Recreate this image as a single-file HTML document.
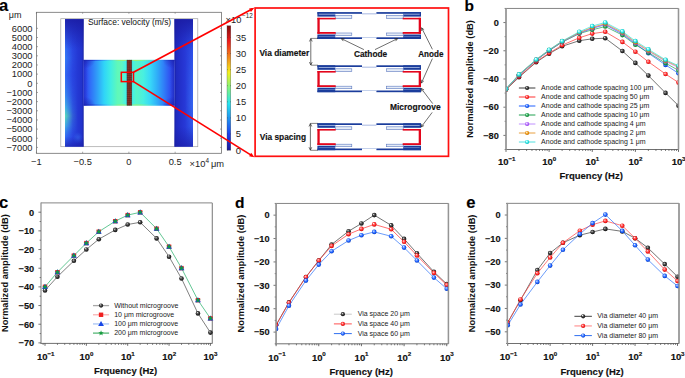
<!DOCTYPE html>
<html><head><meta charset="utf-8"><title>Figure</title>
<style>
html,body{margin:0;padding:0;background:#fff;width:685px;height:378px;overflow:hidden;}
svg{display:block;font-family:"Liberation Sans", sans-serif;}
</style></head><body>
<svg width="685" height="378" viewBox="0 0 685 378" font-family='"Liberation Sans", sans-serif'><defs><radialGradient id="gK" cx="0.5" cy="0.5" r="0.6" fx="0.35" fy="0.3"><stop offset="0" stop-color="#ffffff"/><stop offset="0.25" stop-color="#707070"/><stop offset="0.6" stop-color="#2a2a2a"/><stop offset="1" stop-color="#0a0a0a"/></radialGradient><radialGradient id="gR" cx="0.5" cy="0.5" r="0.6" fx="0.35" fy="0.3"><stop offset="0" stop-color="#ffffff"/><stop offset="0.25" stop-color="#ff8080"/><stop offset="0.6" stop-color="#ff2222"/><stop offset="1" stop-color="#b00000"/></radialGradient><radialGradient id="gB" cx="0.5" cy="0.5" r="0.6" fx="0.35" fy="0.3"><stop offset="0" stop-color="#ffffff"/><stop offset="0.25" stop-color="#7aa8ff"/><stop offset="0.6" stop-color="#1a5cff"/><stop offset="1" stop-color="#0030a0"/></radialGradient><radialGradient id="gG" cx="0.5" cy="0.5" r="0.6" fx="0.35" fy="0.3"><stop offset="0" stop-color="#ffffff"/><stop offset="0.25" stop-color="#70d090"/><stop offset="0.6" stop-color="#1fa04a"/><stop offset="1" stop-color="#0a6020"/></radialGradient><radialGradient id="gP" cx="0.5" cy="0.5" r="0.6" fx="0.35" fy="0.3"><stop offset="0" stop-color="#ffffff"/><stop offset="0.25" stop-color="#d8b0ff"/><stop offset="0.6" stop-color="#b060ff"/><stop offset="1" stop-color="#7020c0"/></radialGradient><radialGradient id="gO" cx="0.5" cy="0.5" r="0.6" fx="0.35" fy="0.3"><stop offset="0" stop-color="#ffffff"/><stop offset="0.25" stop-color="#ffc870"/><stop offset="0.6" stop-color="#e8900a"/><stop offset="1" stop-color="#a05800"/></radialGradient><radialGradient id="gC" cx="0.5" cy="0.5" r="0.6" fx="0.35" fy="0.3"><stop offset="0" stop-color="#ffffff"/><stop offset="0.25" stop-color="#a0ffff"/><stop offset="0.6" stop-color="#20dede"/><stop offset="1" stop-color="#00a0a0"/></radialGradient><linearGradient id="chan" x1="0" y1="0" x2="1" y2="0"><stop offset="0.0000" stop-color="#2c3ce8"/><stop offset="0.0275" stop-color="#2f4cf0"/><stop offset="0.0791" stop-color="#3070f8"/><stop offset="0.1527" stop-color="#30a0f8"/><stop offset="0.2264" stop-color="#30d4f8"/><stop offset="0.3000" stop-color="#40eee2"/><stop offset="0.3462" stop-color="#54f4c8"/><stop offset="0.3747" stop-color="#60f8b8"/><stop offset="0.4187" stop-color="#60f8c0"/><stop offset="0.4505" stop-color="#50f4d8"/><stop offset="0.4725" stop-color="#40f0f0"/><stop offset="0.5308" stop-color="#40f0f0"/><stop offset="0.5462" stop-color="#48f2e0"/><stop offset="0.5846" stop-color="#58f4c8"/><stop offset="0.6582" stop-color="#48f0e0"/><stop offset="0.7319" stop-color="#38d8f8"/><stop offset="0.8055" stop-color="#30b0f8"/><stop offset="0.8802" stop-color="#3080f8"/><stop offset="0.9538" stop-color="#3050f0"/><stop offset="0.9835" stop-color="#2c40e0"/><stop offset="1.0000" stop-color="#2434d0"/></linearGradient><linearGradient id="chanE" x1="0" y1="0" x2="1" y2="0"><stop offset="0.0000" stop-color="#1c2ab8"/><stop offset="0.0934" stop-color="#2040d8"/><stop offset="0.1813" stop-color="#2a80f0"/><stop offset="0.2692" stop-color="#40c8f0"/><stop offset="0.3352" stop-color="#60e8c0"/><stop offset="0.3901" stop-color="#90f080"/><stop offset="0.4451" stop-color="#a0f070"/><stop offset="0.4758" stop-color="#80f0a0"/><stop offset="0.5308" stop-color="#80f0a0"/><stop offset="0.5659" stop-color="#a0f070"/><stop offset="0.6209" stop-color="#90f080"/><stop offset="0.6978" stop-color="#60e8c0"/><stop offset="0.7857" stop-color="#40c8f0"/><stop offset="0.8736" stop-color="#2a80f0"/><stop offset="0.9505" stop-color="#2040d8"/><stop offset="1.0000" stop-color="#1c2ab8"/></linearGradient><linearGradient id="chanL" x1="0" y1="0" x2="1" y2="0"><stop offset="0" stop-color="#1c28b8" stop-opacity="0.55"/><stop offset="1" stop-color="#1c28b8" stop-opacity="0"/></linearGradient><linearGradient id="colL" x1="0" y1="0" x2="1" y2="0"><stop offset="0" stop-color="#3060f2"/><stop offset="0.12" stop-color="#2c4cea"/><stop offset="0.4" stop-color="#2840e0"/><stop offset="1" stop-color="#2030c8"/></linearGradient><linearGradient id="colR" x1="0" y1="0" x2="1" y2="0"><stop offset="0" stop-color="#1e28bc"/><stop offset="0.5" stop-color="#2636d4"/><stop offset="1" stop-color="#2c4ae6"/></linearGradient><radialGradient id="spotL" cx="0.5" cy="0.5" r="0.5"><stop offset="0" stop-color="#4ad8c8" stop-opacity="0.95"/><stop offset="0.5" stop-color="#3aa8ec" stop-opacity="0.6"/><stop offset="1" stop-color="#3070f0" stop-opacity="0"/></radialGradient><radialGradient id="spotB" cx="0.5" cy="0.5" r="0.5"><stop offset="0" stop-color="#3a78f4" stop-opacity="0.8"/><stop offset="1" stop-color="#3a78f4" stop-opacity="0"/></radialGradient><linearGradient id="topdark" x1="0" y1="0" x2="0" y2="1"><stop offset="0" stop-color="#1a1aa0" stop-opacity="0.85"/><stop offset="1" stop-color="#1a1aa0" stop-opacity="0"/></linearGradient><linearGradient id="botdark" x1="0" y1="1" x2="0" y2="0"><stop offset="0" stop-color="#1a1aa0" stop-opacity="0.6"/><stop offset="1" stop-color="#1a1aa0" stop-opacity="0"/></linearGradient><linearGradient id="jet" x1="0" y1="1" x2="0" y2="0"><stop offset="0" stop-color="#1a1a96"/><stop offset="0.125" stop-color="#1c3cf0"/><stop offset="0.375" stop-color="#28e4f0"/><stop offset="0.5" stop-color="#80f480"/><stop offset="0.625" stop-color="#f4f01c"/><stop offset="0.875" stop-color="#f01c1c"/><stop offset="1" stop-color="#800a0a"/></linearGradient><linearGradient id="fadeX" x1="0" y1="0" x2="1" y2="0"><stop offset="0" stop-color="#fff"/><stop offset="1" stop-color="#000"/></linearGradient><linearGradient id="fadeX2" x1="0" y1="0" x2="1" y2="0"><stop offset="0" stop-color="#fff"/><stop offset="0.3" stop-color="#999"/><stop offset="0.6" stop-color="#333"/><stop offset="1" stop-color="#000"/></linearGradient><linearGradient id="fadeXr" x1="1" y1="0" x2="0" y2="0"><stop offset="0" stop-color="#fff"/><stop offset="1" stop-color="#000"/></linearGradient><mask id="mL" maskUnits="userSpaceOnUse" x="0" y="0" width="685" height="378"><rect x="65" y="19" width="13" height="128" fill="url(#fadeX2)"/></mask><mask id="mR" maskUnits="userSpaceOnUse" x="0" y="0" width="685" height="378"><rect x="185" y="19" width="8" height="128" fill="url(#fadeXr)"/></mask><linearGradient id="edgeL" x1="0" y1="0" x2="0" y2="1"><stop offset="0.0000" stop-color="#3a80f8" stop-opacity="0"/><stop offset="0.1638" stop-color="#3a80f8" stop-opacity="0.35"/><stop offset="0.3049" stop-color="#3a90f8" stop-opacity="0.6"/><stop offset="0.4381" stop-color="#3a80f8" stop-opacity="0.4"/><stop offset="0.5948" stop-color="#40a8f0" stop-opacity="0.6"/><stop offset="0.6967" stop-color="#48c8e0" stop-opacity="0.85"/><stop offset="0.7594" stop-color="#58dcb8" stop-opacity="1.0"/><stop offset="0.8378" stop-color="#48c0e0" stop-opacity="0.8"/><stop offset="0.9318" stop-color="#3a80f8" stop-opacity="0.4"/><stop offset="1.0000" stop-color="#3a80f8" stop-opacity="0.15"/></linearGradient><linearGradient id="edgeR" x1="0" y1="0" x2="0" y2="1"><stop offset="0.0000" stop-color="#3a70f4" stop-opacity="0"/><stop offset="0.2422" stop-color="#3a70f4" stop-opacity="0.15"/><stop offset="0.4773" stop-color="#3a70f4" stop-opacity="0.5"/><stop offset="0.6732" stop-color="#3a74f4" stop-opacity="0.65"/><stop offset="0.8299" stop-color="#3a70f4" stop-opacity="0.4"/><stop offset="1.0000" stop-color="#3a70f4" stop-opacity="0.05"/></linearGradient><clipPath id="chClip"><rect x="83.5" y="59.9" width="91" height="45.6"/></clipPath><radialGradient id="corner" cx="0.5" cy="0.5" r="0.5"><stop offset="0" stop-color="#1c24b0" stop-opacity="0.75"/><stop offset="1" stop-color="#1c24b0" stop-opacity="0"/></radialGradient><clipPath id="clb"><rect x="506.00" y="8.45" width="172.50" height="141.05"/></clipPath><clipPath id="cld"><rect x="276.10" y="203.45" width="172.35" height="140.35"/></clipPath><clipPath id="cle"><rect x="507.40" y="203.35" width="171.60" height="140.15"/></clipPath></defs><rect width="685" height="378" fill="#fff"/><text x="-1.00" y="11.30" font-size="16.6" font-weight="bold" text-anchor="start" fill="#000" stroke="#000" stroke-width="0.15" >a</text>
<text x="8.80" y="17.70" font-size="9.0" font-weight="normal" text-anchor="start" fill="#222" >μm</text>
<text x="32.50" y="31.64" font-size="9.3" font-weight="normal" text-anchor="end" fill="#222" >6000</text>
<text x="32.50" y="40.80" font-size="9.3" font-weight="normal" text-anchor="end" fill="#222" >5000</text>
<text x="32.50" y="49.96" font-size="9.3" font-weight="normal" text-anchor="end" fill="#222" >4000</text>
<text x="32.50" y="59.12" font-size="9.3" font-weight="normal" text-anchor="end" fill="#222" >3000</text>
<text x="32.50" y="68.28" font-size="9.3" font-weight="normal" text-anchor="end" fill="#222" >2000</text>
<text x="32.50" y="77.44" font-size="9.3" font-weight="normal" text-anchor="end" fill="#222" >1000</text>
<text x="32.50" y="86.60" font-size="9.3" font-weight="normal" text-anchor="end" fill="#222" >0</text>
<text x="32.50" y="95.76" font-size="9.3" font-weight="normal" text-anchor="end" fill="#222" >−1000</text>
<text x="32.50" y="104.92" font-size="9.3" font-weight="normal" text-anchor="end" fill="#222" >−2000</text>
<text x="32.50" y="114.08" font-size="9.3" font-weight="normal" text-anchor="end" fill="#222" >−3000</text>
<text x="32.50" y="123.24" font-size="9.3" font-weight="normal" text-anchor="end" fill="#222" >−4000</text>
<text x="32.50" y="132.40" font-size="9.3" font-weight="normal" text-anchor="end" fill="#222" >−5000</text>
<text x="32.50" y="141.56" font-size="9.3" font-weight="normal" text-anchor="end" fill="#222" >−6000</text>
<text x="32.50" y="150.72" font-size="9.3" font-weight="normal" text-anchor="end" fill="#222" >−7000</text>
<rect x="60.8" y="18.7" width="137" height="128" fill="#fff" stroke="#a0a0a0" stroke-width="0.7"/>
<rect x="65.00" y="19.10" width="18.50" height="127.60" fill="url(#colL)" />
<rect x="65.00" y="19.10" width="13.00" height="127.60" fill="url(#edgeL)" mask="url(#mL)"/>
<ellipse cx="78" cy="138" rx="5" ry="6" fill="url(#spotB)" opacity="0.6"/>
<rect x="65.00" y="19.10" width="18.50" height="30.00" fill="url(#topdark)" />
<rect x="65.00" y="136.70" width="18.50" height="10.00" fill="url(#botdark)" />
<line x1="83.20" y1="19.10" x2="83.20" y2="146.70" stroke="#1a2090" stroke-width="0.6" />
<rect x="174.50" y="19.10" width="18.50" height="127.60" fill="url(#colR)" />
<rect x="185.00" y="19.10" width="8.00" height="127.60" fill="url(#edgeR)" mask="url(#mR)"/>
<rect x="174.50" y="19.10" width="18.50" height="30.00" fill="url(#topdark)" />
<rect x="174.50" y="126.70" width="18.50" height="20.00" fill="url(#botdark)" />
<line x1="175.00" y1="19.10" x2="175.00" y2="146.70" stroke="#1a2090" stroke-width="0.5" />
<rect x="83.50" y="59.90" width="91.00" height="45.60" fill="url(#chan)" />
<rect x="83.50" y="59.90" width="91.00" height="1.00" fill="url(#chanE)" />
<rect x="83.50" y="104.50" width="91.00" height="1.00" fill="url(#chanE)" />
<rect x="83.50" y="59.90" width="4.50" height="45.60" fill="url(#chanL)" />
<rect x="170" y="59.9" width="4.5" height="45.6" fill="url(#chanL)" transform="rotate(180 172.25 82.7)"/>
<g clip-path="url(#chClip)">
<ellipse cx="83.5" cy="59.9" rx="12" ry="9" fill="url(#corner)"/>
<ellipse cx="83.5" cy="105.5" rx="12" ry="9" fill="url(#corner)"/>
<ellipse cx="174.5" cy="59.9" rx="12" ry="9" fill="url(#corner)"/>
<ellipse cx="174.5" cy="105.5" rx="12" ry="9" fill="url(#corner)"/>
</g>
<rect x="126.90" y="59.90" width="4.90" height="45.60" fill="#88382a" />
<line x1="126.90" y1="60.80" x2="131.80" y2="60.80" stroke="#5a2018" stroke-width="0.5" />
<line x1="126.90" y1="62.90" x2="131.80" y2="62.90" stroke="#5a2018" stroke-width="0.5" />
<line x1="126.90" y1="65.00" x2="131.80" y2="65.00" stroke="#5a2018" stroke-width="0.5" />
<line x1="126.90" y1="67.10" x2="131.80" y2="67.10" stroke="#5a2018" stroke-width="0.5" />
<line x1="126.90" y1="69.20" x2="131.80" y2="69.20" stroke="#5a2018" stroke-width="0.5" />
<line x1="126.90" y1="71.30" x2="131.80" y2="71.30" stroke="#5a2018" stroke-width="0.5" />
<line x1="126.90" y1="73.40" x2="131.80" y2="73.40" stroke="#5a2018" stroke-width="0.5" />
<line x1="126.90" y1="75.50" x2="131.80" y2="75.50" stroke="#5a2018" stroke-width="0.5" />
<line x1="126.90" y1="77.60" x2="131.80" y2="77.60" stroke="#5a2018" stroke-width="0.5" />
<line x1="126.90" y1="79.70" x2="131.80" y2="79.70" stroke="#5a2018" stroke-width="0.5" />
<line x1="126.90" y1="81.80" x2="131.80" y2="81.80" stroke="#5a2018" stroke-width="0.5" />
<line x1="126.90" y1="83.90" x2="131.80" y2="83.90" stroke="#5a2018" stroke-width="0.5" />
<line x1="126.90" y1="86.00" x2="131.80" y2="86.00" stroke="#5a2018" stroke-width="0.5" />
<line x1="126.90" y1="88.10" x2="131.80" y2="88.10" stroke="#5a2018" stroke-width="0.5" />
<line x1="126.90" y1="90.20" x2="131.80" y2="90.20" stroke="#5a2018" stroke-width="0.5" />
<line x1="126.90" y1="92.30" x2="131.80" y2="92.30" stroke="#5a2018" stroke-width="0.5" />
<line x1="126.90" y1="94.40" x2="131.80" y2="94.40" stroke="#5a2018" stroke-width="0.5" />
<line x1="126.90" y1="96.50" x2="131.80" y2="96.50" stroke="#5a2018" stroke-width="0.5" />
<line x1="126.90" y1="98.60" x2="131.80" y2="98.60" stroke="#5a2018" stroke-width="0.5" />
<line x1="126.90" y1="100.70" x2="131.80" y2="100.70" stroke="#5a2018" stroke-width="0.5" />
<line x1="126.90" y1="102.80" x2="131.80" y2="102.80" stroke="#5a2018" stroke-width="0.5" />
<line x1="126.90" y1="104.90" x2="131.80" y2="104.90" stroke="#5a2018" stroke-width="0.5" />
<line x1="129.35" y1="59.90" x2="129.35" y2="105.50" stroke="#5a241c" stroke-width="0.35" />
<line x1="127.10" y1="59.90" x2="127.10" y2="105.50" stroke="#2e3a3a" stroke-width="0.45" />
<line x1="131.60" y1="59.90" x2="131.60" y2="105.50" stroke="#2e3a3a" stroke-width="0.45" />
<rect x="36.4" y="12.3" width="185.1" height="141.0" fill="none" stroke="#6e6e6e" stroke-width="0.8"/>
<line x1="36.40" y1="28.34" x2="38.00" y2="28.34" stroke="#6e6e6e" stroke-width="0.6" />
<line x1="221.50" y1="28.34" x2="220.00" y2="28.34" stroke="#6e6e6e" stroke-width="0.6" />
<line x1="36.40" y1="37.50" x2="38.00" y2="37.50" stroke="#6e6e6e" stroke-width="0.6" />
<line x1="221.50" y1="37.50" x2="220.00" y2="37.50" stroke="#6e6e6e" stroke-width="0.6" />
<line x1="36.40" y1="46.66" x2="38.00" y2="46.66" stroke="#6e6e6e" stroke-width="0.6" />
<line x1="221.50" y1="46.66" x2="220.00" y2="46.66" stroke="#6e6e6e" stroke-width="0.6" />
<line x1="36.40" y1="55.82" x2="38.00" y2="55.82" stroke="#6e6e6e" stroke-width="0.6" />
<line x1="221.50" y1="55.82" x2="220.00" y2="55.82" stroke="#6e6e6e" stroke-width="0.6" />
<line x1="36.40" y1="64.98" x2="38.00" y2="64.98" stroke="#6e6e6e" stroke-width="0.6" />
<line x1="221.50" y1="64.98" x2="220.00" y2="64.98" stroke="#6e6e6e" stroke-width="0.6" />
<line x1="36.40" y1="74.14" x2="38.00" y2="74.14" stroke="#6e6e6e" stroke-width="0.6" />
<line x1="221.50" y1="74.14" x2="220.00" y2="74.14" stroke="#6e6e6e" stroke-width="0.6" />
<line x1="36.40" y1="83.30" x2="38.00" y2="83.30" stroke="#6e6e6e" stroke-width="0.6" />
<line x1="221.50" y1="83.30" x2="220.00" y2="83.30" stroke="#6e6e6e" stroke-width="0.6" />
<line x1="36.40" y1="92.46" x2="38.00" y2="92.46" stroke="#6e6e6e" stroke-width="0.6" />
<line x1="221.50" y1="92.46" x2="220.00" y2="92.46" stroke="#6e6e6e" stroke-width="0.6" />
<line x1="36.40" y1="101.62" x2="38.00" y2="101.62" stroke="#6e6e6e" stroke-width="0.6" />
<line x1="221.50" y1="101.62" x2="220.00" y2="101.62" stroke="#6e6e6e" stroke-width="0.6" />
<line x1="36.40" y1="110.78" x2="38.00" y2="110.78" stroke="#6e6e6e" stroke-width="0.6" />
<line x1="221.50" y1="110.78" x2="220.00" y2="110.78" stroke="#6e6e6e" stroke-width="0.6" />
<line x1="36.40" y1="119.94" x2="38.00" y2="119.94" stroke="#6e6e6e" stroke-width="0.6" />
<line x1="221.50" y1="119.94" x2="220.00" y2="119.94" stroke="#6e6e6e" stroke-width="0.6" />
<line x1="36.40" y1="129.10" x2="38.00" y2="129.10" stroke="#6e6e6e" stroke-width="0.6" />
<line x1="221.50" y1="129.10" x2="220.00" y2="129.10" stroke="#6e6e6e" stroke-width="0.6" />
<line x1="36.40" y1="138.26" x2="38.00" y2="138.26" stroke="#6e6e6e" stroke-width="0.6" />
<line x1="221.50" y1="138.26" x2="220.00" y2="138.26" stroke="#6e6e6e" stroke-width="0.6" />
<line x1="36.40" y1="147.42" x2="38.00" y2="147.42" stroke="#6e6e6e" stroke-width="0.6" />
<line x1="221.50" y1="147.42" x2="220.00" y2="147.42" stroke="#6e6e6e" stroke-width="0.6" />
<line x1="36.40" y1="153.30" x2="36.40" y2="151.70" stroke="#6e6e6e" stroke-width="0.6" />
<line x1="36.40" y1="12.30" x2="36.40" y2="13.80" stroke="#6e6e6e" stroke-width="0.6" />
<text x="36.40" y="165.20" font-size="9.3" font-weight="normal" text-anchor="middle" fill="#222" >−1</text>
<line x1="82.65" y1="153.30" x2="82.65" y2="151.70" stroke="#6e6e6e" stroke-width="0.6" />
<line x1="82.65" y1="12.30" x2="82.65" y2="13.80" stroke="#6e6e6e" stroke-width="0.6" />
<text x="82.65" y="165.20" font-size="9.3" font-weight="normal" text-anchor="middle" fill="#222" >−0.5</text>
<line x1="128.90" y1="153.30" x2="128.90" y2="151.70" stroke="#6e6e6e" stroke-width="0.6" />
<line x1="128.90" y1="12.30" x2="128.90" y2="13.80" stroke="#6e6e6e" stroke-width="0.6" />
<text x="128.90" y="165.20" font-size="9.3" font-weight="normal" text-anchor="middle" fill="#222" >0</text>
<line x1="175.15" y1="153.30" x2="175.15" y2="151.70" stroke="#6e6e6e" stroke-width="0.6" />
<line x1="175.15" y1="12.30" x2="175.15" y2="13.80" stroke="#6e6e6e" stroke-width="0.6" />
<text x="175.15" y="165.20" font-size="9.3" font-weight="normal" text-anchor="middle" fill="#222" >0.5</text>
<text x="189.60" y="167.40" font-size="9.3" font-weight="normal" text-anchor="start" fill="#222" >×10</text>
<text x="205.40" y="162.90" font-size="6.4" font-weight="normal" text-anchor="start" fill="#222" >4</text>
<text x="211.00" y="167.40" font-size="9.3" font-weight="normal" text-anchor="start" fill="#222" >μm</text>
<text x="87.90" y="25.30" font-size="8.6" font-weight="normal" text-anchor="start" fill="#111" textLength="83.3" lengthAdjust="spacingAndGlyphs">Surface: velocity (m/s)</text>
<rect x="227.00" y="25.80" width="3.80" height="124.40" fill="url(#jet)" />
<rect x="227.0" y="25.8" width="3.8" height="124.4" fill="none" stroke="#444" stroke-width="0.3"/>
<line x1="230.00" y1="150.10" x2="230.80" y2="150.10" stroke="#333" stroke-width="0.4" />
<line x1="227.00" y1="150.10" x2="227.80" y2="150.10" stroke="#333" stroke-width="0.4" />
<line x1="230.00" y1="134.00" x2="230.80" y2="134.00" stroke="#333" stroke-width="0.4" />
<line x1="227.00" y1="134.00" x2="227.80" y2="134.00" stroke="#333" stroke-width="0.4" />
<line x1="230.00" y1="117.90" x2="230.80" y2="117.90" stroke="#333" stroke-width="0.4" />
<line x1="227.00" y1="117.90" x2="227.80" y2="117.90" stroke="#333" stroke-width="0.4" />
<line x1="230.00" y1="101.80" x2="230.80" y2="101.80" stroke="#333" stroke-width="0.4" />
<line x1="227.00" y1="101.80" x2="227.80" y2="101.80" stroke="#333" stroke-width="0.4" />
<line x1="230.00" y1="85.70" x2="230.80" y2="85.70" stroke="#333" stroke-width="0.4" />
<line x1="227.00" y1="85.70" x2="227.80" y2="85.70" stroke="#333" stroke-width="0.4" />
<line x1="230.00" y1="69.60" x2="230.80" y2="69.60" stroke="#333" stroke-width="0.4" />
<line x1="227.00" y1="69.60" x2="227.80" y2="69.60" stroke="#333" stroke-width="0.4" />
<line x1="230.00" y1="53.50" x2="230.80" y2="53.50" stroke="#333" stroke-width="0.4" />
<line x1="227.00" y1="53.50" x2="227.80" y2="53.50" stroke="#333" stroke-width="0.4" />
<line x1="230.00" y1="37.40" x2="230.80" y2="37.40" stroke="#333" stroke-width="0.4" />
<line x1="227.00" y1="37.40" x2="227.80" y2="37.40" stroke="#333" stroke-width="0.4" />
<text x="235.70" y="153.50" font-size="9.4" font-weight="normal" text-anchor="start" fill="#222" >0</text>
<text x="235.70" y="137.40" font-size="9.4" font-weight="normal" text-anchor="start" fill="#222" >5</text>
<text x="235.70" y="121.30" font-size="9.4" font-weight="normal" text-anchor="start" fill="#222" >10</text>
<text x="235.70" y="105.20" font-size="9.4" font-weight="normal" text-anchor="start" fill="#222" >15</text>
<text x="235.70" y="89.10" font-size="9.4" font-weight="normal" text-anchor="start" fill="#222" >20</text>
<text x="235.70" y="73.00" font-size="9.4" font-weight="normal" text-anchor="start" fill="#222" >25</text>
<text x="235.70" y="56.90" font-size="9.4" font-weight="normal" text-anchor="start" fill="#222" >30</text>
<text x="235.70" y="40.80" font-size="9.4" font-weight="normal" text-anchor="start" fill="#222" >35</text>
<text x="225.60" y="23.00" font-size="9.3" font-weight="normal" text-anchor="start" fill="#222" >×10</text>
<text x="242.00" y="17.80" font-size="6.3" font-weight="normal" text-anchor="start" fill="#222" >−12</text>
<rect x="121.3" y="72.3" width="12.2" height="9.3" fill="none" stroke="#ff0000" stroke-width="1.5"/>
<line x1="133.50" y1="72.30" x2="252.19" y2="8.98" stroke="#ff0000" stroke-width="1.7" />
<path d="M254.40,7.80 L250.93,11.92 L249.05,8.39 Z" fill="#ff0000"/>
<line x1="133.50" y1="81.60" x2="252.28" y2="155.87" stroke="#ff0000" stroke-width="1.7" />
<path d="M254.40,157.20 L249.10,156.24 L251.22,152.85 Z" fill="#ff0000"/>
<rect x="255.1" y="8.0" width="193.4" height="148.3" fill="none" stroke="#ff1010" stroke-width="1.7"/>
<rect x="317.40" y="12.10" width="44.60" height="1.70" fill="#1b3d9c" />
<rect x="317.40" y="37.30" width="44.60" height="1.70" fill="#1b3d9c" />
<rect x="317.40" y="12.10" width="17.80" height="4.50" fill="#1b3d9c" />
<rect x="318.70" y="13.80" width="16.50" height="0.75" fill="#b9c8ea" />
<rect x="317.40" y="34.50" width="17.80" height="4.50" fill="#1b3d9c" />
<rect x="318.70" y="36.00" width="16.50" height="0.60" fill="#7f95cf" />
<rect x="335.20" y="15.60" width="16.60" height="2.80" fill="#e4ebf7" stroke="#5b78bf" stroke-width="0.6"/>
<rect x="335.20" y="33.00" width="16.60" height="2.50" fill="#e4ebf7" stroke="#5b78bf" stroke-width="0.6"/>
<rect x="317.40" y="17.80" width="18.30" height="1.60" fill="#e3061c" />
<rect x="317.40" y="32.00" width="18.30" height="1.80" fill="#e3061c" />
<rect x="317.40" y="17.80" width="2.30" height="16.00" fill="#e3061c" />
<rect x="376.40" y="12.10" width="44.60" height="1.70" fill="#1b3d9c" />
<rect x="376.40" y="37.30" width="44.60" height="1.70" fill="#1b3d9c" />
<rect x="403.20" y="12.10" width="17.80" height="4.50" fill="#1b3d9c" />
<rect x="403.20" y="13.80" width="16.50" height="0.75" fill="#b9c8ea" />
<rect x="403.20" y="34.50" width="17.80" height="4.50" fill="#1b3d9c" />
<rect x="403.20" y="36.00" width="16.50" height="0.60" fill="#7f95cf" />
<rect x="386.60" y="15.60" width="16.60" height="2.80" fill="#e4ebf7" stroke="#5b78bf" stroke-width="0.6"/>
<rect x="386.60" y="33.00" width="16.60" height="2.50" fill="#e4ebf7" stroke="#5b78bf" stroke-width="0.6"/>
<rect x="402.70" y="17.80" width="18.30" height="1.60" fill="#e3061c" />
<rect x="402.70" y="32.00" width="18.30" height="1.80" fill="#e3061c" />
<rect x="418.70" y="17.80" width="2.30" height="16.00" fill="#e3061c" />
<rect x="362.00" y="13.60" width="14.40" height="0.60" fill="#6d88cc" />
<rect x="362.00" y="37.10" width="14.40" height="0.60" fill="#9cb2e0" />
<rect x="317.40" y="65.30" width="44.60" height="1.70" fill="#1b3d9c" />
<rect x="317.40" y="90.50" width="44.60" height="1.70" fill="#1b3d9c" />
<rect x="317.40" y="65.30" width="17.80" height="4.50" fill="#1b3d9c" />
<rect x="318.70" y="67.00" width="16.50" height="0.75" fill="#b9c8ea" />
<rect x="317.40" y="87.70" width="17.80" height="4.50" fill="#1b3d9c" />
<rect x="318.70" y="89.20" width="16.50" height="0.60" fill="#7f95cf" />
<rect x="335.20" y="68.80" width="16.60" height="2.80" fill="#e4ebf7" stroke="#5b78bf" stroke-width="0.6"/>
<rect x="335.20" y="86.20" width="16.60" height="2.50" fill="#e4ebf7" stroke="#5b78bf" stroke-width="0.6"/>
<rect x="317.40" y="71.00" width="18.30" height="1.60" fill="#e3061c" />
<rect x="317.40" y="85.20" width="18.30" height="1.80" fill="#e3061c" />
<rect x="317.40" y="71.00" width="2.30" height="16.00" fill="#e3061c" />
<rect x="376.40" y="65.30" width="44.60" height="1.70" fill="#1b3d9c" />
<rect x="376.40" y="90.50" width="44.60" height="1.70" fill="#1b3d9c" />
<rect x="403.20" y="65.30" width="17.80" height="4.50" fill="#1b3d9c" />
<rect x="403.20" y="67.00" width="16.50" height="0.75" fill="#b9c8ea" />
<rect x="403.20" y="87.70" width="17.80" height="4.50" fill="#1b3d9c" />
<rect x="403.20" y="89.20" width="16.50" height="0.60" fill="#7f95cf" />
<rect x="386.60" y="68.80" width="16.60" height="2.80" fill="#e4ebf7" stroke="#5b78bf" stroke-width="0.6"/>
<rect x="386.60" y="86.20" width="16.60" height="2.50" fill="#e4ebf7" stroke="#5b78bf" stroke-width="0.6"/>
<rect x="402.70" y="71.00" width="18.30" height="1.60" fill="#e3061c" />
<rect x="402.70" y="85.20" width="18.30" height="1.80" fill="#e3061c" />
<rect x="418.70" y="71.00" width="2.30" height="16.00" fill="#e3061c" />
<rect x="362.00" y="66.80" width="14.40" height="0.60" fill="#6d88cc" />
<rect x="362.00" y="90.30" width="14.40" height="0.60" fill="#9cb2e0" />
<rect x="317.40" y="123.30" width="44.60" height="1.70" fill="#1b3d9c" />
<rect x="317.40" y="148.50" width="44.60" height="1.70" fill="#1b3d9c" />
<rect x="317.40" y="123.30" width="17.80" height="4.50" fill="#1b3d9c" />
<rect x="318.70" y="125.00" width="16.50" height="0.75" fill="#b9c8ea" />
<rect x="317.40" y="145.70" width="17.80" height="4.50" fill="#1b3d9c" />
<rect x="318.70" y="147.20" width="16.50" height="0.60" fill="#7f95cf" />
<rect x="335.20" y="126.80" width="16.60" height="2.80" fill="#e4ebf7" stroke="#5b78bf" stroke-width="0.6"/>
<rect x="335.20" y="144.20" width="16.60" height="2.50" fill="#e4ebf7" stroke="#5b78bf" stroke-width="0.6"/>
<rect x="317.40" y="129.00" width="18.30" height="1.60" fill="#e3061c" />
<rect x="317.40" y="143.20" width="18.30" height="1.80" fill="#e3061c" />
<rect x="317.40" y="129.00" width="2.30" height="16.00" fill="#e3061c" />
<rect x="376.40" y="123.30" width="44.60" height="1.70" fill="#1b3d9c" />
<rect x="376.40" y="148.50" width="44.60" height="1.70" fill="#1b3d9c" />
<rect x="403.20" y="123.30" width="17.80" height="4.50" fill="#1b3d9c" />
<rect x="403.20" y="125.00" width="16.50" height="0.75" fill="#b9c8ea" />
<rect x="403.20" y="145.70" width="17.80" height="4.50" fill="#1b3d9c" />
<rect x="403.20" y="147.20" width="16.50" height="0.60" fill="#7f95cf" />
<rect x="386.60" y="126.80" width="16.60" height="2.80" fill="#e4ebf7" stroke="#5b78bf" stroke-width="0.6"/>
<rect x="386.60" y="144.20" width="16.60" height="2.50" fill="#e4ebf7" stroke="#5b78bf" stroke-width="0.6"/>
<rect x="402.70" y="129.00" width="18.30" height="1.60" fill="#e3061c" />
<rect x="402.70" y="143.20" width="18.30" height="1.80" fill="#e3061c" />
<rect x="418.70" y="129.00" width="2.30" height="16.00" fill="#e3061c" />
<rect x="362.00" y="124.80" width="14.40" height="0.60" fill="#6d88cc" />
<rect x="362.00" y="148.30" width="14.40" height="0.60" fill="#9cb2e0" />
<line x1="310.80" y1="38.40" x2="318.00" y2="38.40" stroke="#222" stroke-width="0.55" />
<line x1="310.80" y1="65.20" x2="318.00" y2="65.20" stroke="#222" stroke-width="0.55" />
<line x1="310.80" y1="52.00" x2="310.80" y2="38.60" stroke="#222" stroke-width="0.65" />
<path d="M312.19,41.48 L310.80,38.60 L309.41,41.48" fill="none" stroke="#222" stroke-width="0.65"/>
<line x1="310.80" y1="52.00" x2="310.80" y2="65.00" stroke="#222" stroke-width="0.65" />
<path d="M309.41,62.12 L310.80,65.00 L312.19,62.12" fill="none" stroke="#222" stroke-width="0.65"/>
<line x1="310.40" y1="123.40" x2="318.00" y2="123.40" stroke="#222" stroke-width="0.55" />
<line x1="310.40" y1="150.30" x2="318.00" y2="150.30" stroke="#222" stroke-width="0.55" />
<line x1="310.40" y1="137.00" x2="310.40" y2="123.60" stroke="#222" stroke-width="0.65" />
<path d="M311.79,126.48 L310.40,123.60 L309.01,126.48" fill="none" stroke="#222" stroke-width="0.65"/>
<line x1="310.40" y1="137.00" x2="310.40" y2="150.10" stroke="#222" stroke-width="0.65" />
<path d="M309.01,147.22 L310.40,150.10 L311.79,147.22" fill="none" stroke="#222" stroke-width="0.65"/>
<line x1="363.90" y1="49.60" x2="341.30" y2="38.60" stroke="#222" stroke-width="0.65" />
<path d="M344.50,38.61 L341.30,38.60 L343.28,41.11" fill="none" stroke="#222" stroke-width="0.65"/>
<line x1="375.00" y1="49.60" x2="397.60" y2="38.60" stroke="#222" stroke-width="0.65" />
<path d="M395.62,41.11 L397.60,38.60 L394.40,38.61" fill="none" stroke="#222" stroke-width="0.65"/>
<line x1="432.40" y1="49.30" x2="421.60" y2="27.80" stroke="#222" stroke-width="0.65" />
<path d="M424.14,29.75 L421.60,27.80 L421.65,31.00" fill="none" stroke="#222" stroke-width="0.65"/>
<line x1="432.40" y1="58.60" x2="421.40" y2="83.00" stroke="#222" stroke-width="0.65" />
<path d="M421.32,79.80 L421.40,83.00 L423.85,80.95" fill="none" stroke="#222" stroke-width="0.65"/>
<line x1="432.70" y1="103.60" x2="421.20" y2="88.40" stroke="#222" stroke-width="0.65" />
<path d="M424.05,89.86 L421.20,88.40 L421.83,91.54" fill="none" stroke="#222" stroke-width="0.65"/>
<line x1="432.20" y1="112.40" x2="421.20" y2="127.00" stroke="#222" stroke-width="0.65" />
<path d="M421.82,123.86 L421.20,127.00 L424.05,125.54" fill="none" stroke="#222" stroke-width="0.65"/>
<text x="259.40" y="56.00" font-size="8.4" font-weight="bold" text-anchor="start" fill="#111" stroke="#111" stroke-width="0.15" textLength="49.9" lengthAdjust="spacingAndGlyphs">Via diameter</text>
<text x="353.90" y="57.00" font-size="8.4" font-weight="bold" text-anchor="start" fill="#111" stroke="#111" stroke-width="0.15" textLength="33.3" lengthAdjust="spacingAndGlyphs">Cathode</text>
<text x="418.30" y="56.80" font-size="8.4" font-weight="bold" text-anchor="start" fill="#111" stroke="#111" stroke-width="0.15" textLength="25.1" lengthAdjust="spacingAndGlyphs">Anode</text>
<text x="390.00" y="110.20" font-size="8.4" font-weight="bold" text-anchor="start" fill="#111" stroke="#111" stroke-width="0.15" textLength="50.6" lengthAdjust="spacingAndGlyphs">Microgroove</text>
<text x="259.80" y="140.00" font-size="8.4" font-weight="bold" text-anchor="start" fill="#111" stroke="#111" stroke-width="0.15" textLength="46.2" lengthAdjust="spacingAndGlyphs">Via spacing</text>
<line x1="506.00" y1="8.45" x2="678.50" y2="8.45" stroke="#858585" stroke-width="1.0" />
<line x1="678.50" y1="8.45" x2="678.50" y2="149.50" stroke="#959595" stroke-width="1.3" />
<line x1="506.00" y1="8.05" x2="506.00" y2="149.90" stroke="#959595" stroke-width="1.3" />
<line x1="505.70" y1="149.50" x2="678.50" y2="149.50" stroke="#707070" stroke-width="1.0" />
<line x1="503.40" y1="22.55" x2="506.00" y2="22.55" stroke="#555555" stroke-width="0.8" />
<line x1="503.40" y1="50.77" x2="506.00" y2="50.77" stroke="#555555" stroke-width="0.8" />
<line x1="503.40" y1="78.98" x2="506.00" y2="78.98" stroke="#555555" stroke-width="0.8" />
<line x1="503.40" y1="107.19" x2="506.00" y2="107.19" stroke="#555555" stroke-width="0.8" />
<line x1="503.40" y1="135.40" x2="506.00" y2="135.40" stroke="#555555" stroke-width="0.8" />
<line x1="504.60" y1="8.45" x2="506.00" y2="8.45" stroke="#555555" stroke-width="0.7" />
<line x1="504.60" y1="36.66" x2="506.00" y2="36.66" stroke="#555555" stroke-width="0.7" />
<line x1="504.60" y1="64.87" x2="506.00" y2="64.87" stroke="#555555" stroke-width="0.7" />
<line x1="504.60" y1="93.08" x2="506.00" y2="93.08" stroke="#555555" stroke-width="0.7" />
<line x1="504.60" y1="121.29" x2="506.00" y2="121.29" stroke="#555555" stroke-width="0.7" />
<line x1="504.60" y1="149.50" x2="506.00" y2="149.50" stroke="#555555" stroke-width="0.7" />
<text x="498.80" y="25.86" font-size="9.2" font-weight="bold" text-anchor="end" fill="#111" stroke="#111" stroke-width="0.15" >0</text>
<text x="498.80" y="54.06" font-size="9.2" font-weight="bold" text-anchor="end" fill="#111" stroke="#111" stroke-width="0.15" >−20</text>
<text x="498.80" y="82.28" font-size="9.2" font-weight="bold" text-anchor="end" fill="#111" stroke="#111" stroke-width="0.15" >−40</text>
<text x="498.80" y="110.48" font-size="9.2" font-weight="bold" text-anchor="end" fill="#111" stroke="#111" stroke-width="0.15" >−60</text>
<text x="498.80" y="138.70" font-size="9.2" font-weight="bold" text-anchor="end" fill="#111" stroke="#111" stroke-width="0.15" >−80</text>
<line x1="506.00" y1="149.50" x2="506.00" y2="151.90" stroke="#444444" stroke-width="0.8" />
<line x1="518.98" y1="149.50" x2="518.98" y2="151.00" stroke="#4a4a4a" stroke-width="0.7" />
<line x1="526.58" y1="149.50" x2="526.58" y2="151.00" stroke="#4a4a4a" stroke-width="0.7" />
<line x1="531.96" y1="149.50" x2="531.96" y2="151.00" stroke="#4a4a4a" stroke-width="0.7" />
<line x1="536.14" y1="149.50" x2="536.14" y2="151.00" stroke="#4a4a4a" stroke-width="0.7" />
<line x1="539.56" y1="149.50" x2="539.56" y2="151.00" stroke="#4a4a4a" stroke-width="0.7" />
<line x1="542.44" y1="149.50" x2="542.44" y2="151.00" stroke="#4a4a4a" stroke-width="0.7" />
<line x1="544.95" y1="149.50" x2="544.95" y2="151.00" stroke="#4a4a4a" stroke-width="0.7" />
<line x1="547.15" y1="149.50" x2="547.15" y2="151.00" stroke="#4a4a4a" stroke-width="0.7" />
<line x1="549.12" y1="149.50" x2="549.12" y2="151.90" stroke="#444444" stroke-width="0.8" />
<line x1="562.11" y1="149.50" x2="562.11" y2="151.00" stroke="#4a4a4a" stroke-width="0.7" />
<line x1="569.70" y1="149.50" x2="569.70" y2="151.00" stroke="#4a4a4a" stroke-width="0.7" />
<line x1="575.09" y1="149.50" x2="575.09" y2="151.00" stroke="#4a4a4a" stroke-width="0.7" />
<line x1="579.27" y1="149.50" x2="579.27" y2="151.00" stroke="#4a4a4a" stroke-width="0.7" />
<line x1="582.68" y1="149.50" x2="582.68" y2="151.00" stroke="#4a4a4a" stroke-width="0.7" />
<line x1="585.57" y1="149.50" x2="585.57" y2="151.00" stroke="#4a4a4a" stroke-width="0.7" />
<line x1="588.07" y1="149.50" x2="588.07" y2="151.00" stroke="#4a4a4a" stroke-width="0.7" />
<line x1="590.28" y1="149.50" x2="590.28" y2="151.00" stroke="#4a4a4a" stroke-width="0.7" />
<line x1="592.25" y1="149.50" x2="592.25" y2="151.90" stroke="#444444" stroke-width="0.8" />
<line x1="605.23" y1="149.50" x2="605.23" y2="151.00" stroke="#4a4a4a" stroke-width="0.7" />
<line x1="612.83" y1="149.50" x2="612.83" y2="151.00" stroke="#4a4a4a" stroke-width="0.7" />
<line x1="618.21" y1="149.50" x2="618.21" y2="151.00" stroke="#4a4a4a" stroke-width="0.7" />
<line x1="622.39" y1="149.50" x2="622.39" y2="151.00" stroke="#4a4a4a" stroke-width="0.7" />
<line x1="625.81" y1="149.50" x2="625.81" y2="151.00" stroke="#4a4a4a" stroke-width="0.7" />
<line x1="628.69" y1="149.50" x2="628.69" y2="151.00" stroke="#4a4a4a" stroke-width="0.7" />
<line x1="631.20" y1="149.50" x2="631.20" y2="151.00" stroke="#4a4a4a" stroke-width="0.7" />
<line x1="633.40" y1="149.50" x2="633.40" y2="151.00" stroke="#4a4a4a" stroke-width="0.7" />
<line x1="635.38" y1="149.50" x2="635.38" y2="151.90" stroke="#444444" stroke-width="0.8" />
<line x1="648.36" y1="149.50" x2="648.36" y2="151.00" stroke="#4a4a4a" stroke-width="0.7" />
<line x1="655.95" y1="149.50" x2="655.95" y2="151.00" stroke="#4a4a4a" stroke-width="0.7" />
<line x1="661.34" y1="149.50" x2="661.34" y2="151.00" stroke="#4a4a4a" stroke-width="0.7" />
<line x1="665.52" y1="149.50" x2="665.52" y2="151.00" stroke="#4a4a4a" stroke-width="0.7" />
<line x1="668.93" y1="149.50" x2="668.93" y2="151.00" stroke="#4a4a4a" stroke-width="0.7" />
<line x1="671.82" y1="149.50" x2="671.82" y2="151.00" stroke="#4a4a4a" stroke-width="0.7" />
<line x1="674.32" y1="149.50" x2="674.32" y2="151.00" stroke="#4a4a4a" stroke-width="0.7" />
<line x1="676.53" y1="149.50" x2="676.53" y2="151.00" stroke="#4a4a4a" stroke-width="0.7" />
<line x1="678.50" y1="149.50" x2="678.50" y2="151.90" stroke="#444444" stroke-width="0.8" />
<text x="498.08" y="164.90" font-size="9.5" font-weight="bold" text-anchor="start" fill="#111" stroke="#111" stroke-width="0.15" >10</text>
<text x="508.48" y="160.60" font-size="6.2" font-weight="bold" text-anchor="start" fill="#111" stroke="#111" stroke-width="0.15" >−1</text>
<text x="542.32" y="164.90" font-size="9.5" font-weight="bold" text-anchor="start" fill="#111" stroke="#111" stroke-width="0.15" >10</text>
<text x="552.72" y="160.60" font-size="6.2" font-weight="bold" text-anchor="start" fill="#111" stroke="#111" stroke-width="0.15" >0</text>
<text x="585.45" y="164.90" font-size="9.5" font-weight="bold" text-anchor="start" fill="#111" stroke="#111" stroke-width="0.15" >10</text>
<text x="595.85" y="160.60" font-size="6.2" font-weight="bold" text-anchor="start" fill="#111" stroke="#111" stroke-width="0.15" >1</text>
<text x="628.57" y="164.90" font-size="9.5" font-weight="bold" text-anchor="start" fill="#111" stroke="#111" stroke-width="0.15" >10</text>
<text x="638.97" y="160.60" font-size="6.2" font-weight="bold" text-anchor="start" fill="#111" stroke="#111" stroke-width="0.15" >2</text>
<text x="671.70" y="164.90" font-size="9.5" font-weight="bold" text-anchor="start" fill="#111" stroke="#111" stroke-width="0.15" >10</text>
<text x="682.10" y="160.60" font-size="6.2" font-weight="bold" text-anchor="start" fill="#111" stroke="#111" stroke-width="0.15" >3</text>
<text x="464.60" y="11.30" font-size="15.5" font-weight="bold" text-anchor="start" fill="#000" stroke="#000" stroke-width="0.15" >b</text>
<text transform="translate(473.40,78.97) rotate(-90)" x="0" y="0" font-size="9.3" font-weight="bold" text-anchor="middle" fill="#111">Normalized amplitude (dB)</text>
<text x="591.15" y="179.40" font-size="9.5" font-weight="bold" text-anchor="middle" fill="#111" stroke="#111" stroke-width="0.15" >Frquency (Hz)</text>
<g clip-path="url(#clb)">
<polyline points="506.00,89.60 518.98,77.30 536.14,62.30 549.12,53.70 562.11,46.30 579.27,40.70 592.25,38.80 605.23,38.20 622.39,51.00 635.38,62.90 648.36,75.60 665.52,92.90 678.50,105.70" fill="none" stroke="#3a3a3a" stroke-width="0.7"/>
<circle cx="506.00" cy="89.60" r="2.3" fill="url(#gK)"/>
<circle cx="518.98" cy="77.30" r="2.3" fill="url(#gK)"/>
<circle cx="536.14" cy="62.30" r="2.3" fill="url(#gK)"/>
<circle cx="549.12" cy="53.70" r="2.3" fill="url(#gK)"/>
<circle cx="562.11" cy="46.30" r="2.3" fill="url(#gK)"/>
<circle cx="579.27" cy="40.70" r="2.3" fill="url(#gK)"/>
<circle cx="592.25" cy="38.80" r="2.3" fill="url(#gK)"/>
<circle cx="605.23" cy="38.20" r="2.3" fill="url(#gK)"/>
<circle cx="622.39" cy="51.00" r="2.3" fill="url(#gK)"/>
<circle cx="635.38" cy="62.90" r="2.3" fill="url(#gK)"/>
<circle cx="648.36" cy="75.60" r="2.3" fill="url(#gK)"/>
<circle cx="665.52" cy="92.90" r="2.3" fill="url(#gK)"/>
<circle cx="678.50" cy="105.70" r="2.3" fill="url(#gK)"/>
<polyline points="506.00,89.40 518.98,76.60 536.14,61.60 549.12,53.10 562.11,45.20 579.27,37.80 592.25,33.60 605.23,31.80 622.39,41.90 635.38,51.70 648.36,61.80 665.52,74.00 678.50,82.60" fill="none" stroke="#ff3030" stroke-width="0.7"/>
<circle cx="506.00" cy="89.40" r="2.3" fill="url(#gR)"/>
<circle cx="518.98" cy="76.60" r="2.3" fill="url(#gR)"/>
<circle cx="536.14" cy="61.60" r="2.3" fill="url(#gR)"/>
<circle cx="549.12" cy="53.10" r="2.3" fill="url(#gR)"/>
<circle cx="562.11" cy="45.20" r="2.3" fill="url(#gR)"/>
<circle cx="579.27" cy="37.80" r="2.3" fill="url(#gR)"/>
<circle cx="592.25" cy="33.60" r="2.3" fill="url(#gR)"/>
<circle cx="605.23" cy="31.80" r="2.3" fill="url(#gR)"/>
<circle cx="622.39" cy="41.90" r="2.3" fill="url(#gR)"/>
<circle cx="635.38" cy="51.70" r="2.3" fill="url(#gR)"/>
<circle cx="648.36" cy="61.80" r="2.3" fill="url(#gR)"/>
<circle cx="665.52" cy="74.00" r="2.3" fill="url(#gR)"/>
<circle cx="678.50" cy="82.60" r="2.3" fill="url(#gR)"/>
<polyline points="506.00,89.10 518.98,75.20 536.14,60.30 549.12,50.60 562.11,42.10 579.27,33.30 592.25,28.30 605.23,24.60 622.39,34.00 635.38,43.70 648.36,53.20 665.52,64.90 678.50,73.30" fill="none" stroke="#2060ff" stroke-width="0.7"/>
<circle cx="506.00" cy="89.10" r="2.3" fill="url(#gB)"/>
<circle cx="518.98" cy="75.20" r="2.3" fill="url(#gB)"/>
<circle cx="536.14" cy="60.30" r="2.3" fill="url(#gB)"/>
<circle cx="549.12" cy="50.60" r="2.3" fill="url(#gB)"/>
<circle cx="562.11" cy="42.10" r="2.3" fill="url(#gB)"/>
<circle cx="579.27" cy="33.30" r="2.3" fill="url(#gB)"/>
<circle cx="592.25" cy="28.30" r="2.3" fill="url(#gB)"/>
<circle cx="605.23" cy="24.60" r="2.3" fill="url(#gB)"/>
<circle cx="622.39" cy="34.00" r="2.3" fill="url(#gB)"/>
<circle cx="635.38" cy="43.70" r="2.3" fill="url(#gB)"/>
<circle cx="648.36" cy="53.20" r="2.3" fill="url(#gB)"/>
<circle cx="665.52" cy="64.90" r="2.3" fill="url(#gB)"/>
<circle cx="678.50" cy="73.30" r="2.3" fill="url(#gB)"/>
<polyline points="506.00,89.10 518.98,75.00 536.14,60.10 549.12,50.50 562.11,42.00 579.27,33.60 592.25,29.80 605.23,26.50 622.39,35.10 635.38,44.70 648.36,52.60 665.52,63.10 678.50,70.40" fill="none" stroke="#20a050" stroke-width="0.7"/>
<circle cx="506.00" cy="89.10" r="2.3" fill="url(#gG)"/>
<circle cx="518.98" cy="75.00" r="2.3" fill="url(#gG)"/>
<circle cx="536.14" cy="60.10" r="2.3" fill="url(#gG)"/>
<circle cx="549.12" cy="50.50" r="2.3" fill="url(#gG)"/>
<circle cx="562.11" cy="42.00" r="2.3" fill="url(#gG)"/>
<circle cx="579.27" cy="33.60" r="2.3" fill="url(#gG)"/>
<circle cx="592.25" cy="29.80" r="2.3" fill="url(#gG)"/>
<circle cx="605.23" cy="26.50" r="2.3" fill="url(#gG)"/>
<circle cx="622.39" cy="35.10" r="2.3" fill="url(#gG)"/>
<circle cx="635.38" cy="44.70" r="2.3" fill="url(#gG)"/>
<circle cx="648.36" cy="52.60" r="2.3" fill="url(#gG)"/>
<circle cx="665.52" cy="63.10" r="2.3" fill="url(#gG)"/>
<circle cx="678.50" cy="70.40" r="2.3" fill="url(#gG)"/>
<polyline points="506.00,89.00 518.98,74.80 536.14,59.90 549.12,50.20 562.11,41.70 579.27,33.00 592.25,28.20 605.23,24.30 622.39,33.30 635.38,43.00 648.36,51.20 665.52,61.30 678.50,67.60" fill="none" stroke="#b070ff" stroke-width="0.7"/>
<circle cx="506.00" cy="89.00" r="2.3" fill="url(#gP)"/>
<circle cx="518.98" cy="74.80" r="2.3" fill="url(#gP)"/>
<circle cx="536.14" cy="59.90" r="2.3" fill="url(#gP)"/>
<circle cx="549.12" cy="50.20" r="2.3" fill="url(#gP)"/>
<circle cx="562.11" cy="41.70" r="2.3" fill="url(#gP)"/>
<circle cx="579.27" cy="33.00" r="2.3" fill="url(#gP)"/>
<circle cx="592.25" cy="28.20" r="2.3" fill="url(#gP)"/>
<circle cx="605.23" cy="24.30" r="2.3" fill="url(#gP)"/>
<circle cx="622.39" cy="33.30" r="2.3" fill="url(#gP)"/>
<circle cx="635.38" cy="43.00" r="2.3" fill="url(#gP)"/>
<circle cx="648.36" cy="51.20" r="2.3" fill="url(#gP)"/>
<circle cx="665.52" cy="61.30" r="2.3" fill="url(#gP)"/>
<circle cx="678.50" cy="67.60" r="2.3" fill="url(#gP)"/>
<polyline points="506.00,89.00 518.98,74.60 536.14,59.70 549.12,50.00 562.11,41.40 579.27,32.50 592.25,27.40 605.23,23.60 622.39,32.50 635.38,42.20 648.36,50.40 665.52,60.60 678.50,66.60" fill="none" stroke="#e89018" stroke-width="0.7"/>
<circle cx="506.00" cy="89.00" r="2.3" fill="url(#gO)"/>
<circle cx="518.98" cy="74.60" r="2.3" fill="url(#gO)"/>
<circle cx="536.14" cy="59.70" r="2.3" fill="url(#gO)"/>
<circle cx="549.12" cy="50.00" r="2.3" fill="url(#gO)"/>
<circle cx="562.11" cy="41.40" r="2.3" fill="url(#gO)"/>
<circle cx="579.27" cy="32.50" r="2.3" fill="url(#gO)"/>
<circle cx="592.25" cy="27.40" r="2.3" fill="url(#gO)"/>
<circle cx="605.23" cy="23.60" r="2.3" fill="url(#gO)"/>
<circle cx="622.39" cy="32.50" r="2.3" fill="url(#gO)"/>
<circle cx="635.38" cy="42.20" r="2.3" fill="url(#gO)"/>
<circle cx="648.36" cy="50.40" r="2.3" fill="url(#gO)"/>
<circle cx="665.52" cy="60.60" r="2.3" fill="url(#gO)"/>
<circle cx="678.50" cy="66.60" r="2.3" fill="url(#gO)"/>
<polyline points="506.00,88.90 518.98,74.40 536.14,59.50 549.12,49.80 562.11,41.10 579.27,31.80 592.25,26.10 605.23,22.50 622.39,31.40 635.38,41.10 648.36,49.30 665.52,59.80 678.50,65.80" fill="none" stroke="#30dcdc" stroke-width="0.7"/>
<circle cx="506.00" cy="88.90" r="2.3" fill="url(#gC)"/>
<circle cx="518.98" cy="74.40" r="2.3" fill="url(#gC)"/>
<circle cx="536.14" cy="59.50" r="2.3" fill="url(#gC)"/>
<circle cx="549.12" cy="49.80" r="2.3" fill="url(#gC)"/>
<circle cx="562.11" cy="41.10" r="2.3" fill="url(#gC)"/>
<circle cx="579.27" cy="31.80" r="2.3" fill="url(#gC)"/>
<circle cx="592.25" cy="26.10" r="2.3" fill="url(#gC)"/>
<circle cx="605.23" cy="22.50" r="2.3" fill="url(#gC)"/>
<circle cx="622.39" cy="31.40" r="2.3" fill="url(#gC)"/>
<circle cx="635.38" cy="41.10" r="2.3" fill="url(#gC)"/>
<circle cx="648.36" cy="49.30" r="2.3" fill="url(#gC)"/>
<circle cx="665.52" cy="59.80" r="2.3" fill="url(#gC)"/>
<circle cx="678.50" cy="65.80" r="2.3" fill="url(#gC)"/>
</g>
<line x1="678.50" y1="8.45" x2="678.50" y2="149.50" stroke="#959595" stroke-width="1.3" />
<line x1="506.00" y1="8.05" x2="506.00" y2="149.90" stroke="#959595" stroke-width="1.3" />
<line x1="518.90" y1="88.00" x2="535.40" y2="88.00" stroke="#3a3a3a" stroke-width="1.0" />
<circle cx="527.15" cy="88.00" r="2.1" fill="url(#gK)"/>
<text x="541.10" y="89.90" font-size="7.0" font-weight="normal" text-anchor="start" fill="#1a1a1a" >Anode and cathode spacing 100 μm</text>
<line x1="518.90" y1="97.00" x2="535.40" y2="97.00" stroke="#ff3030" stroke-width="1.0" />
<circle cx="527.15" cy="97.00" r="2.1" fill="url(#gR)"/>
<text x="541.10" y="98.90" font-size="7.0" font-weight="normal" text-anchor="start" fill="#1a1a1a" >Anode and cathode spacing 50 μm</text>
<line x1="518.90" y1="106.00" x2="535.40" y2="106.00" stroke="#2060ff" stroke-width="1.0" />
<circle cx="527.15" cy="106.00" r="2.1" fill="url(#gB)"/>
<text x="541.10" y="107.90" font-size="7.0" font-weight="normal" text-anchor="start" fill="#1a1a1a" >Anode and cathode spacing 25 μm</text>
<line x1="518.90" y1="115.00" x2="535.40" y2="115.00" stroke="#20a050" stroke-width="1.0" />
<circle cx="527.15" cy="115.00" r="2.1" fill="url(#gG)"/>
<text x="541.10" y="116.90" font-size="7.0" font-weight="normal" text-anchor="start" fill="#1a1a1a" >Anode and cathode spacing 10 μm</text>
<line x1="518.90" y1="124.00" x2="535.40" y2="124.00" stroke="#c090ff" stroke-width="1.0" />
<circle cx="527.15" cy="124.00" r="2.1" fill="url(#gP)"/>
<text x="541.10" y="125.90" font-size="7.0" font-weight="normal" text-anchor="start" fill="#1a1a1a" >Anode and cathode spacing 4 μm</text>
<line x1="518.90" y1="133.00" x2="535.40" y2="133.00" stroke="#e8a040" stroke-width="1.0" />
<circle cx="527.15" cy="133.00" r="2.1" fill="url(#gO)"/>
<text x="541.10" y="134.90" font-size="7.0" font-weight="normal" text-anchor="start" fill="#1a1a1a" >Anode and cathode spacing 2 μm</text>
<line x1="518.90" y1="142.00" x2="535.40" y2="142.00" stroke="#50e0e0" stroke-width="1.0" />
<circle cx="527.15" cy="142.00" r="2.1" fill="url(#gC)"/>
<text x="541.10" y="143.90" font-size="7.0" font-weight="normal" text-anchor="start" fill="#1a1a1a" >Anode and cathode spacing 1 μm</text>
<line x1="41.00" y1="202.90" x2="212.35" y2="202.90" stroke="#858585" stroke-width="1.0" />
<line x1="212.35" y1="202.90" x2="212.35" y2="343.40" stroke="#959595" stroke-width="1.3" />
<line x1="41.00" y1="202.50" x2="41.00" y2="343.80" stroke="#959595" stroke-width="1.3" />
<line x1="40.70" y1="343.40" x2="212.35" y2="343.40" stroke="#707070" stroke-width="1.0" />
<line x1="38.40" y1="212.20" x2="41.00" y2="212.20" stroke="#555555" stroke-width="0.8" />
<line x1="38.40" y1="230.87" x2="41.00" y2="230.87" stroke="#555555" stroke-width="0.8" />
<line x1="38.40" y1="249.54" x2="41.00" y2="249.54" stroke="#555555" stroke-width="0.8" />
<line x1="38.40" y1="268.21" x2="41.00" y2="268.21" stroke="#555555" stroke-width="0.8" />
<line x1="38.40" y1="286.88" x2="41.00" y2="286.88" stroke="#555555" stroke-width="0.8" />
<line x1="38.40" y1="305.55" x2="41.00" y2="305.55" stroke="#555555" stroke-width="0.8" />
<line x1="38.40" y1="324.22" x2="41.00" y2="324.22" stroke="#555555" stroke-width="0.8" />
<line x1="38.40" y1="342.89" x2="41.00" y2="342.89" stroke="#555555" stroke-width="0.8" />
<line x1="39.60" y1="221.53" x2="41.00" y2="221.53" stroke="#555555" stroke-width="0.7" />
<line x1="39.60" y1="240.20" x2="41.00" y2="240.20" stroke="#555555" stroke-width="0.7" />
<line x1="39.60" y1="258.88" x2="41.00" y2="258.88" stroke="#555555" stroke-width="0.7" />
<line x1="39.60" y1="277.54" x2="41.00" y2="277.54" stroke="#555555" stroke-width="0.7" />
<line x1="39.60" y1="296.21" x2="41.00" y2="296.21" stroke="#555555" stroke-width="0.7" />
<line x1="39.60" y1="314.88" x2="41.00" y2="314.88" stroke="#555555" stroke-width="0.7" />
<line x1="39.60" y1="333.56" x2="41.00" y2="333.56" stroke="#555555" stroke-width="0.7" />
<text x="34.20" y="215.50" font-size="9.2" font-weight="bold" text-anchor="end" fill="#111" stroke="#111" stroke-width="0.15" >0</text>
<text x="34.20" y="234.17" font-size="9.2" font-weight="bold" text-anchor="end" fill="#111" stroke="#111" stroke-width="0.15" >−10</text>
<text x="34.20" y="252.84" font-size="9.2" font-weight="bold" text-anchor="end" fill="#111" stroke="#111" stroke-width="0.15" >−20</text>
<text x="34.20" y="271.51" font-size="9.2" font-weight="bold" text-anchor="end" fill="#111" stroke="#111" stroke-width="0.15" >−30</text>
<text x="34.20" y="290.18" font-size="9.2" font-weight="bold" text-anchor="end" fill="#111" stroke="#111" stroke-width="0.15" >−40</text>
<text x="34.20" y="308.85" font-size="9.2" font-weight="bold" text-anchor="end" fill="#111" stroke="#111" stroke-width="0.15" >−50</text>
<text x="34.20" y="327.52" font-size="9.2" font-weight="bold" text-anchor="end" fill="#111" stroke="#111" stroke-width="0.15" >−60</text>
<text x="34.20" y="346.19" font-size="9.2" font-weight="bold" text-anchor="end" fill="#111" stroke="#111" stroke-width="0.15" >−70</text>
<line x1="43.11" y1="343.40" x2="43.11" y2="344.90" stroke="#4a4a4a" stroke-width="0.7" />
<line x1="45.00" y1="343.40" x2="45.00" y2="345.80" stroke="#444444" stroke-width="0.8" />
<line x1="57.45" y1="343.40" x2="57.45" y2="344.90" stroke="#4a4a4a" stroke-width="0.7" />
<line x1="64.73" y1="343.40" x2="64.73" y2="344.90" stroke="#4a4a4a" stroke-width="0.7" />
<line x1="69.90" y1="343.40" x2="69.90" y2="344.90" stroke="#4a4a4a" stroke-width="0.7" />
<line x1="73.90" y1="343.40" x2="73.90" y2="344.90" stroke="#4a4a4a" stroke-width="0.7" />
<line x1="77.18" y1="343.40" x2="77.18" y2="344.90" stroke="#4a4a4a" stroke-width="0.7" />
<line x1="79.94" y1="343.40" x2="79.94" y2="344.90" stroke="#4a4a4a" stroke-width="0.7" />
<line x1="82.34" y1="343.40" x2="82.34" y2="344.90" stroke="#4a4a4a" stroke-width="0.7" />
<line x1="84.46" y1="343.40" x2="84.46" y2="344.90" stroke="#4a4a4a" stroke-width="0.7" />
<line x1="86.35" y1="343.40" x2="86.35" y2="345.80" stroke="#444444" stroke-width="0.8" />
<line x1="98.80" y1="343.40" x2="98.80" y2="344.90" stroke="#4a4a4a" stroke-width="0.7" />
<line x1="106.08" y1="343.40" x2="106.08" y2="344.90" stroke="#4a4a4a" stroke-width="0.7" />
<line x1="111.25" y1="343.40" x2="111.25" y2="344.90" stroke="#4a4a4a" stroke-width="0.7" />
<line x1="115.25" y1="343.40" x2="115.25" y2="344.90" stroke="#4a4a4a" stroke-width="0.7" />
<line x1="118.53" y1="343.40" x2="118.53" y2="344.90" stroke="#4a4a4a" stroke-width="0.7" />
<line x1="121.29" y1="343.40" x2="121.29" y2="344.90" stroke="#4a4a4a" stroke-width="0.7" />
<line x1="123.69" y1="343.40" x2="123.69" y2="344.90" stroke="#4a4a4a" stroke-width="0.7" />
<line x1="125.81" y1="343.40" x2="125.81" y2="344.90" stroke="#4a4a4a" stroke-width="0.7" />
<line x1="127.70" y1="343.40" x2="127.70" y2="345.80" stroke="#444444" stroke-width="0.8" />
<line x1="140.15" y1="343.40" x2="140.15" y2="344.90" stroke="#4a4a4a" stroke-width="0.7" />
<line x1="147.43" y1="343.40" x2="147.43" y2="344.90" stroke="#4a4a4a" stroke-width="0.7" />
<line x1="152.60" y1="343.40" x2="152.60" y2="344.90" stroke="#4a4a4a" stroke-width="0.7" />
<line x1="156.60" y1="343.40" x2="156.60" y2="344.90" stroke="#4a4a4a" stroke-width="0.7" />
<line x1="159.88" y1="343.40" x2="159.88" y2="344.90" stroke="#4a4a4a" stroke-width="0.7" />
<line x1="162.64" y1="343.40" x2="162.64" y2="344.90" stroke="#4a4a4a" stroke-width="0.7" />
<line x1="165.04" y1="343.40" x2="165.04" y2="344.90" stroke="#4a4a4a" stroke-width="0.7" />
<line x1="167.16" y1="343.40" x2="167.16" y2="344.90" stroke="#4a4a4a" stroke-width="0.7" />
<line x1="169.05" y1="343.40" x2="169.05" y2="345.80" stroke="#444444" stroke-width="0.8" />
<line x1="181.50" y1="343.40" x2="181.50" y2="344.90" stroke="#4a4a4a" stroke-width="0.7" />
<line x1="188.78" y1="343.40" x2="188.78" y2="344.90" stroke="#4a4a4a" stroke-width="0.7" />
<line x1="193.95" y1="343.40" x2="193.95" y2="344.90" stroke="#4a4a4a" stroke-width="0.7" />
<line x1="197.95" y1="343.40" x2="197.95" y2="344.90" stroke="#4a4a4a" stroke-width="0.7" />
<line x1="201.23" y1="343.40" x2="201.23" y2="344.90" stroke="#4a4a4a" stroke-width="0.7" />
<line x1="203.99" y1="343.40" x2="203.99" y2="344.90" stroke="#4a4a4a" stroke-width="0.7" />
<line x1="206.39" y1="343.40" x2="206.39" y2="344.90" stroke="#4a4a4a" stroke-width="0.7" />
<line x1="208.51" y1="343.40" x2="208.51" y2="344.90" stroke="#4a4a4a" stroke-width="0.7" />
<line x1="210.40" y1="343.40" x2="210.40" y2="345.80" stroke="#444444" stroke-width="0.8" />
<text x="37.09" y="359.80" font-size="9.5" font-weight="bold" text-anchor="start" fill="#111" stroke="#111" stroke-width="0.15" >10</text>
<text x="47.48" y="355.50" font-size="6.2" font-weight="bold" text-anchor="start" fill="#111" stroke="#111" stroke-width="0.15" >−1</text>
<text x="79.55" y="359.80" font-size="9.5" font-weight="bold" text-anchor="start" fill="#111" stroke="#111" stroke-width="0.15" >10</text>
<text x="89.95" y="355.50" font-size="6.2" font-weight="bold" text-anchor="start" fill="#111" stroke="#111" stroke-width="0.15" >0</text>
<text x="120.90" y="359.80" font-size="9.5" font-weight="bold" text-anchor="start" fill="#111" stroke="#111" stroke-width="0.15" >10</text>
<text x="131.30" y="355.50" font-size="6.2" font-weight="bold" text-anchor="start" fill="#111" stroke="#111" stroke-width="0.15" >1</text>
<text x="162.25" y="359.80" font-size="9.5" font-weight="bold" text-anchor="start" fill="#111" stroke="#111" stroke-width="0.15" >10</text>
<text x="172.65" y="355.50" font-size="6.2" font-weight="bold" text-anchor="start" fill="#111" stroke="#111" stroke-width="0.15" >2</text>
<text x="203.59" y="359.80" font-size="9.5" font-weight="bold" text-anchor="start" fill="#111" stroke="#111" stroke-width="0.15" >10</text>
<text x="214.00" y="355.50" font-size="6.2" font-weight="bold" text-anchor="start" fill="#111" stroke="#111" stroke-width="0.15" >3</text>
<text x="-0.90" y="207.90" font-size="16.6" font-weight="bold" text-anchor="start" fill="#000" stroke="#000" stroke-width="0.15" >c</text>
<text transform="translate(7.90,273.15) rotate(-90)" x="0" y="0" font-size="9.3" font-weight="bold" text-anchor="middle" fill="#111">Normalized amplitude (dB)</text>
<text x="125.58" y="374.40" font-size="9.5" font-weight="bold" text-anchor="middle" fill="#111" stroke="#111" stroke-width="0.15" >Frquency (Hz)</text>
<polyline points="45.00,290.50 57.45,276.70 73.90,260.80 86.35,249.50 98.80,239.20 115.25,229.90 127.70,224.50 140.15,222.30 156.60,238.40 169.05,256.70 181.50,278.50 197.95,313.40 210.40,332.60" fill="none" stroke="#4a4a4a" stroke-width="0.7"/>
<circle cx="45.00" cy="290.50" r="2.3" fill="url(#gK)"/>
<circle cx="57.45" cy="276.70" r="2.3" fill="url(#gK)"/>
<circle cx="73.90" cy="260.80" r="2.3" fill="url(#gK)"/>
<circle cx="86.35" cy="249.50" r="2.3" fill="url(#gK)"/>
<circle cx="98.80" cy="239.20" r="2.3" fill="url(#gK)"/>
<circle cx="115.25" cy="229.90" r="2.3" fill="url(#gK)"/>
<circle cx="127.70" cy="224.50" r="2.3" fill="url(#gK)"/>
<circle cx="140.15" cy="222.30" r="2.3" fill="url(#gK)"/>
<circle cx="156.60" cy="238.40" r="2.3" fill="url(#gK)"/>
<circle cx="169.05" cy="256.70" r="2.3" fill="url(#gK)"/>
<circle cx="181.50" cy="278.50" r="2.3" fill="url(#gK)"/>
<circle cx="197.95" cy="313.40" r="2.3" fill="url(#gK)"/>
<circle cx="210.40" cy="332.60" r="2.3" fill="url(#gK)"/>
<polyline points="45.00,286.80 57.45,272.20 73.90,255.60 86.35,243.10 98.80,231.70 115.25,221.20 127.70,215.10 140.15,212.30 156.60,228.70 169.05,246.70 181.50,268.10 197.95,300.20 210.40,318.40" fill="none" stroke="#3cb878" stroke-width="0.8"/>
<rect x="42.80" y="284.60" width="4.4" height="4.4" fill="#f02020"/>
<path d="M45.00,283.80 L47.90,288.90 L42.10,288.90 Z" fill="#1646e6"/>
<polygon points="45.00,283.90 45.71,285.83 47.76,285.90 46.14,287.17 46.70,289.15 45.00,288.00 43.30,289.15 43.86,287.17 42.24,285.90 44.29,285.83" fill="#139a3c"/>
<rect x="55.25" y="270.00" width="4.4" height="4.4" fill="#f02020"/>
<path d="M57.45,269.20 L60.35,274.30 L54.55,274.30 Z" fill="#1646e6"/>
<polygon points="57.45,269.30 58.15,271.23 60.21,271.30 58.59,272.57 59.15,274.55 57.45,273.40 55.74,274.55 56.31,272.57 54.69,271.30 56.74,271.23" fill="#139a3c"/>
<rect x="71.70" y="253.40" width="4.4" height="4.4" fill="#f02020"/>
<path d="M73.90,252.60 L76.80,257.70 L71.00,257.70 Z" fill="#1646e6"/>
<polygon points="73.90,252.70 74.61,254.63 76.66,254.70 75.04,255.97 75.61,257.95 73.90,256.80 72.20,257.95 72.76,255.97 71.14,254.70 73.20,254.63" fill="#139a3c"/>
<rect x="84.15" y="240.90" width="4.4" height="4.4" fill="#f02020"/>
<path d="M86.35,240.10 L89.25,245.20 L83.45,245.20 Z" fill="#1646e6"/>
<polygon points="86.35,240.20 87.06,242.13 89.11,242.20 87.49,243.47 88.05,245.45 86.35,244.30 84.65,245.45 85.21,243.47 83.59,242.20 85.64,242.13" fill="#139a3c"/>
<rect x="96.60" y="229.50" width="4.4" height="4.4" fill="#f02020"/>
<path d="M98.80,228.70 L101.70,233.80 L95.90,233.80 Z" fill="#1646e6"/>
<polygon points="98.80,228.80 99.50,230.73 101.56,230.80 99.94,232.07 100.50,234.05 98.80,232.90 97.09,234.05 97.66,232.07 96.04,230.80 98.09,230.73" fill="#139a3c"/>
<rect x="113.05" y="219.00" width="4.4" height="4.4" fill="#f02020"/>
<path d="M115.25,218.20 L118.15,223.30 L112.35,223.30 Z" fill="#1646e6"/>
<polygon points="115.25,218.30 115.96,220.23 118.01,220.30 116.39,221.57 116.96,223.55 115.25,222.40 113.55,223.55 114.11,221.57 112.49,220.30 114.55,220.23" fill="#139a3c"/>
<rect x="125.50" y="212.90" width="4.4" height="4.4" fill="#f02020"/>
<path d="M127.70,212.10 L130.60,217.20 L124.80,217.20 Z" fill="#1646e6"/>
<polygon points="127.70,212.20 128.41,214.13 130.46,214.20 128.84,215.47 129.40,217.45 127.70,216.30 126.00,217.45 126.56,215.47 124.94,214.20 126.99,214.13" fill="#139a3c"/>
<rect x="137.95" y="210.10" width="4.4" height="4.4" fill="#f02020"/>
<path d="M140.15,209.30 L143.05,214.40 L137.25,214.40 Z" fill="#1646e6"/>
<polygon points="140.15,209.40 140.85,211.33 142.91,211.40 141.29,212.67 141.85,214.65 140.15,213.50 138.44,214.65 139.01,212.67 137.39,211.40 139.44,211.33" fill="#139a3c"/>
<rect x="154.40" y="226.50" width="4.4" height="4.4" fill="#f02020"/>
<path d="M156.60,225.70 L159.50,230.80 L153.70,230.80 Z" fill="#1646e6"/>
<polygon points="156.60,225.80 157.31,227.73 159.36,227.80 157.74,229.07 158.31,231.05 156.60,229.90 154.90,231.05 155.46,229.07 153.84,227.80 155.90,227.73" fill="#139a3c"/>
<rect x="166.85" y="244.50" width="4.4" height="4.4" fill="#f02020"/>
<path d="M169.05,243.70 L171.95,248.80 L166.15,248.80 Z" fill="#1646e6"/>
<polygon points="169.05,243.80 169.76,245.73 171.81,245.80 170.19,247.07 170.75,249.05 169.05,247.90 167.35,249.05 167.91,247.07 166.29,245.80 168.34,245.73" fill="#139a3c"/>
<rect x="179.30" y="265.90" width="4.4" height="4.4" fill="#f02020"/>
<path d="M181.50,265.10 L184.40,270.20 L178.60,270.20 Z" fill="#1646e6"/>
<polygon points="181.50,265.20 182.20,267.13 184.26,267.20 182.64,268.47 183.20,270.45 181.50,269.30 179.79,270.45 180.36,268.47 178.74,267.20 180.79,267.13" fill="#139a3c"/>
<rect x="195.75" y="298.00" width="4.4" height="4.4" fill="#f02020"/>
<path d="M197.95,297.20 L200.85,302.30 L195.05,302.30 Z" fill="#1646e6"/>
<polygon points="197.95,297.30 198.66,299.23 200.71,299.30 199.09,300.57 199.66,302.55 197.95,301.40 196.25,302.55 196.81,300.57 195.19,299.30 197.25,299.23" fill="#139a3c"/>
<rect x="208.20" y="316.20" width="4.4" height="4.4" fill="#f02020"/>
<path d="M210.40,315.40 L213.30,320.50 L207.50,320.50 Z" fill="#1646e6"/>
<polygon points="210.40,315.50 211.11,317.43 213.16,317.50 211.54,318.77 212.10,320.75 210.40,319.60 208.70,320.75 209.26,318.77 207.64,317.50 209.69,317.43" fill="#139a3c"/>
<line x1="93.00" y1="305.60" x2="109.10" y2="305.60" stroke="#a8a8a8" stroke-width="1.3" />
<circle cx="101.05" cy="305.60" r="2.1" fill="url(#gK)"/>
<text x="114.20" y="307.50" font-size="7.0" font-weight="normal" text-anchor="start" fill="#1a1a1a" >Without microgroove</text>
<line x1="93.00" y1="314.77" x2="109.10" y2="314.77" stroke="#f8b4b4" stroke-width="1.3" />
<rect x="98.85" y="312.57" width="4.4" height="4.4" fill="#f02020"/>
<text x="114.20" y="316.67" font-size="7.0" font-weight="normal" text-anchor="start" fill="#1a1a1a" >10 μm microgroove</text>
<line x1="93.00" y1="323.94" x2="109.10" y2="323.94" stroke="#a8c4f4" stroke-width="1.3" />
<path d="M101.05,320.94 L103.95,326.04 L98.15,326.04 Z" fill="#1646e6"/>
<text x="114.20" y="325.84" font-size="7.0" font-weight="normal" text-anchor="start" fill="#1a1a1a" >100 μm microgroove</text>
<line x1="93.00" y1="333.11" x2="109.10" y2="333.11" stroke="#58b878" stroke-width="1.3" />
<polygon points="101.05,330.21 101.76,332.14 103.81,332.21 102.19,333.48 102.75,335.46 101.05,334.31 99.35,335.46 99.91,333.48 98.29,332.21 100.34,332.14" fill="#139a3c"/>
<text x="114.20" y="335.01" font-size="7.0" font-weight="normal" text-anchor="start" fill="#1a1a1a" >200 μm microgroove</text>
<line x1="276.10" y1="203.45" x2="448.45" y2="203.45" stroke="#858585" stroke-width="1.0" />
<line x1="448.45" y1="203.45" x2="448.45" y2="343.80" stroke="#959595" stroke-width="1.3" />
<line x1="276.10" y1="203.05" x2="276.10" y2="344.20" stroke="#959595" stroke-width="1.3" />
<line x1="275.80" y1="343.80" x2="448.45" y2="343.80" stroke="#707070" stroke-width="1.0" />
<line x1="273.50" y1="215.15" x2="276.10" y2="215.15" stroke="#555555" stroke-width="0.8" />
<line x1="273.50" y1="238.54" x2="276.10" y2="238.54" stroke="#555555" stroke-width="0.8" />
<line x1="273.50" y1="261.93" x2="276.10" y2="261.93" stroke="#555555" stroke-width="0.8" />
<line x1="273.50" y1="285.32" x2="276.10" y2="285.32" stroke="#555555" stroke-width="0.8" />
<line x1="273.50" y1="308.71" x2="276.10" y2="308.71" stroke="#555555" stroke-width="0.8" />
<line x1="273.50" y1="332.10" x2="276.10" y2="332.10" stroke="#555555" stroke-width="0.8" />
<line x1="274.70" y1="203.45" x2="276.10" y2="203.45" stroke="#555555" stroke-width="0.7" />
<line x1="274.70" y1="226.84" x2="276.10" y2="226.84" stroke="#555555" stroke-width="0.7" />
<line x1="274.70" y1="250.23" x2="276.10" y2="250.23" stroke="#555555" stroke-width="0.7" />
<line x1="274.70" y1="273.62" x2="276.10" y2="273.62" stroke="#555555" stroke-width="0.7" />
<line x1="274.70" y1="297.02" x2="276.10" y2="297.02" stroke="#555555" stroke-width="0.7" />
<line x1="274.70" y1="320.41" x2="276.10" y2="320.41" stroke="#555555" stroke-width="0.7" />
<line x1="274.70" y1="343.80" x2="276.10" y2="343.80" stroke="#555555" stroke-width="0.7" />
<text x="269.60" y="218.45" font-size="9.2" font-weight="bold" text-anchor="end" fill="#111" stroke="#111" stroke-width="0.15" >0</text>
<text x="269.60" y="241.84" font-size="9.2" font-weight="bold" text-anchor="end" fill="#111" stroke="#111" stroke-width="0.15" >−10</text>
<text x="269.60" y="265.23" font-size="9.2" font-weight="bold" text-anchor="end" fill="#111" stroke="#111" stroke-width="0.15" >−20</text>
<text x="269.60" y="288.62" font-size="9.2" font-weight="bold" text-anchor="end" fill="#111" stroke="#111" stroke-width="0.15" >−30</text>
<text x="269.60" y="312.01" font-size="9.2" font-weight="bold" text-anchor="end" fill="#111" stroke="#111" stroke-width="0.15" >−40</text>
<text x="269.60" y="335.40" font-size="9.2" font-weight="bold" text-anchor="end" fill="#111" stroke="#111" stroke-width="0.15" >−50</text>
<line x1="276.10" y1="343.80" x2="276.10" y2="346.20" stroke="#444444" stroke-width="0.8" />
<line x1="288.94" y1="343.80" x2="288.94" y2="345.30" stroke="#4a4a4a" stroke-width="0.7" />
<line x1="296.45" y1="343.80" x2="296.45" y2="345.30" stroke="#4a4a4a" stroke-width="0.7" />
<line x1="301.78" y1="343.80" x2="301.78" y2="345.30" stroke="#4a4a4a" stroke-width="0.7" />
<line x1="305.92" y1="343.80" x2="305.92" y2="345.30" stroke="#4a4a4a" stroke-width="0.7" />
<line x1="309.30" y1="343.80" x2="309.30" y2="345.30" stroke="#4a4a4a" stroke-width="0.7" />
<line x1="312.15" y1="343.80" x2="312.15" y2="345.30" stroke="#4a4a4a" stroke-width="0.7" />
<line x1="314.63" y1="343.80" x2="314.63" y2="345.30" stroke="#4a4a4a" stroke-width="0.7" />
<line x1="316.81" y1="343.80" x2="316.81" y2="345.30" stroke="#4a4a4a" stroke-width="0.7" />
<line x1="318.76" y1="343.80" x2="318.76" y2="346.20" stroke="#444444" stroke-width="0.8" />
<line x1="331.60" y1="343.80" x2="331.60" y2="345.30" stroke="#4a4a4a" stroke-width="0.7" />
<line x1="339.11" y1="343.80" x2="339.11" y2="345.30" stroke="#4a4a4a" stroke-width="0.7" />
<line x1="344.44" y1="343.80" x2="344.44" y2="345.30" stroke="#4a4a4a" stroke-width="0.7" />
<line x1="348.58" y1="343.80" x2="348.58" y2="345.30" stroke="#4a4a4a" stroke-width="0.7" />
<line x1="351.96" y1="343.80" x2="351.96" y2="345.30" stroke="#4a4a4a" stroke-width="0.7" />
<line x1="354.81" y1="343.80" x2="354.81" y2="345.30" stroke="#4a4a4a" stroke-width="0.7" />
<line x1="357.29" y1="343.80" x2="357.29" y2="345.30" stroke="#4a4a4a" stroke-width="0.7" />
<line x1="359.47" y1="343.80" x2="359.47" y2="345.30" stroke="#4a4a4a" stroke-width="0.7" />
<line x1="361.42" y1="343.80" x2="361.42" y2="346.20" stroke="#444444" stroke-width="0.8" />
<line x1="374.26" y1="343.80" x2="374.26" y2="345.30" stroke="#4a4a4a" stroke-width="0.7" />
<line x1="381.77" y1="343.80" x2="381.77" y2="345.30" stroke="#4a4a4a" stroke-width="0.7" />
<line x1="387.10" y1="343.80" x2="387.10" y2="345.30" stroke="#4a4a4a" stroke-width="0.7" />
<line x1="391.24" y1="343.80" x2="391.24" y2="345.30" stroke="#4a4a4a" stroke-width="0.7" />
<line x1="394.62" y1="343.80" x2="394.62" y2="345.30" stroke="#4a4a4a" stroke-width="0.7" />
<line x1="397.47" y1="343.80" x2="397.47" y2="345.30" stroke="#4a4a4a" stroke-width="0.7" />
<line x1="399.95" y1="343.80" x2="399.95" y2="345.30" stroke="#4a4a4a" stroke-width="0.7" />
<line x1="402.13" y1="343.80" x2="402.13" y2="345.30" stroke="#4a4a4a" stroke-width="0.7" />
<line x1="404.08" y1="343.80" x2="404.08" y2="346.20" stroke="#444444" stroke-width="0.8" />
<line x1="416.92" y1="343.80" x2="416.92" y2="345.30" stroke="#4a4a4a" stroke-width="0.7" />
<line x1="424.43" y1="343.80" x2="424.43" y2="345.30" stroke="#4a4a4a" stroke-width="0.7" />
<line x1="429.76" y1="343.80" x2="429.76" y2="345.30" stroke="#4a4a4a" stroke-width="0.7" />
<line x1="433.90" y1="343.80" x2="433.90" y2="345.30" stroke="#4a4a4a" stroke-width="0.7" />
<line x1="437.28" y1="343.80" x2="437.28" y2="345.30" stroke="#4a4a4a" stroke-width="0.7" />
<line x1="440.13" y1="343.80" x2="440.13" y2="345.30" stroke="#4a4a4a" stroke-width="0.7" />
<line x1="442.61" y1="343.80" x2="442.61" y2="345.30" stroke="#4a4a4a" stroke-width="0.7" />
<line x1="444.79" y1="343.80" x2="444.79" y2="345.30" stroke="#4a4a4a" stroke-width="0.7" />
<line x1="446.74" y1="343.80" x2="446.74" y2="346.20" stroke="#444444" stroke-width="0.8" />
<text x="268.19" y="360.50" font-size="9.5" font-weight="bold" text-anchor="start" fill="#111" stroke="#111" stroke-width="0.15" >10</text>
<text x="278.58" y="356.20" font-size="6.2" font-weight="bold" text-anchor="start" fill="#111" stroke="#111" stroke-width="0.15" >−1</text>
<text x="311.95" y="360.50" font-size="9.5" font-weight="bold" text-anchor="start" fill="#111" stroke="#111" stroke-width="0.15" >10</text>
<text x="322.35" y="356.20" font-size="6.2" font-weight="bold" text-anchor="start" fill="#111" stroke="#111" stroke-width="0.15" >0</text>
<text x="354.62" y="360.50" font-size="9.5" font-weight="bold" text-anchor="start" fill="#111" stroke="#111" stroke-width="0.15" >10</text>
<text x="365.01" y="356.20" font-size="6.2" font-weight="bold" text-anchor="start" fill="#111" stroke="#111" stroke-width="0.15" >1</text>
<text x="397.28" y="360.50" font-size="9.5" font-weight="bold" text-anchor="start" fill="#111" stroke="#111" stroke-width="0.15" >10</text>
<text x="407.68" y="356.20" font-size="6.2" font-weight="bold" text-anchor="start" fill="#111" stroke="#111" stroke-width="0.15" >2</text>
<text x="439.94" y="360.50" font-size="9.5" font-weight="bold" text-anchor="start" fill="#111" stroke="#111" stroke-width="0.15" >10</text>
<text x="450.33" y="356.20" font-size="6.2" font-weight="bold" text-anchor="start" fill="#111" stroke="#111" stroke-width="0.15" >3</text>
<text x="235.00" y="207.90" font-size="15.5" font-weight="bold" text-anchor="start" fill="#000" stroke="#000" stroke-width="0.15" >d</text>
<text transform="translate(243.80,273.62) rotate(-90)" x="0" y="0" font-size="9.3" font-weight="bold" text-anchor="middle" fill="#111">Normalized amplitude (dB)</text>
<text x="361.17" y="375.40" font-size="9.5" font-weight="bold" text-anchor="middle" fill="#111" stroke="#111" stroke-width="0.15" >Frquency (Hz)</text>
<g clip-path="url(#cld)">
<polyline points="276.10,325.00 288.94,302.40 305.92,277.00 318.76,260.50 331.60,244.50 348.58,231.20 361.42,223.50 374.26,215.10 391.24,225.40 404.08,238.90 416.92,253.20 433.90,271.80 446.74,284.00" fill="none" stroke="#3a3a3a" stroke-width="0.7"/>
<circle cx="276.10" cy="325.00" r="2.3" fill="url(#gK)"/>
<circle cx="288.94" cy="302.40" r="2.3" fill="url(#gK)"/>
<circle cx="305.92" cy="277.00" r="2.3" fill="url(#gK)"/>
<circle cx="318.76" cy="260.50" r="2.3" fill="url(#gK)"/>
<circle cx="331.60" cy="244.50" r="2.3" fill="url(#gK)"/>
<circle cx="348.58" cy="231.20" r="2.3" fill="url(#gK)"/>
<circle cx="361.42" cy="223.50" r="2.3" fill="url(#gK)"/>
<circle cx="374.26" cy="215.10" r="2.3" fill="url(#gK)"/>
<circle cx="391.24" cy="225.40" r="2.3" fill="url(#gK)"/>
<circle cx="404.08" cy="238.90" r="2.3" fill="url(#gK)"/>
<circle cx="416.92" cy="253.20" r="2.3" fill="url(#gK)"/>
<circle cx="433.90" cy="271.80" r="2.3" fill="url(#gK)"/>
<circle cx="446.74" cy="284.00" r="2.3" fill="url(#gK)"/>
<polyline points="276.10,325.30 288.94,302.70 305.92,277.10 318.76,260.60 331.60,245.90 348.58,234.20 361.42,228.90 374.26,224.40 391.24,229.30 404.08,241.80 416.92,255.50 433.90,272.90 446.74,284.90" fill="none" stroke="#ff3030" stroke-width="0.7"/>
<circle cx="276.10" cy="325.30" r="2.3" fill="url(#gR)"/>
<circle cx="288.94" cy="302.70" r="2.3" fill="url(#gR)"/>
<circle cx="305.92" cy="277.10" r="2.3" fill="url(#gR)"/>
<circle cx="318.76" cy="260.60" r="2.3" fill="url(#gR)"/>
<circle cx="331.60" cy="245.90" r="2.3" fill="url(#gR)"/>
<circle cx="348.58" cy="234.20" r="2.3" fill="url(#gR)"/>
<circle cx="361.42" cy="228.90" r="2.3" fill="url(#gR)"/>
<circle cx="374.26" cy="224.40" r="2.3" fill="url(#gR)"/>
<circle cx="391.24" cy="229.30" r="2.3" fill="url(#gR)"/>
<circle cx="404.08" cy="241.80" r="2.3" fill="url(#gR)"/>
<circle cx="416.92" cy="255.50" r="2.3" fill="url(#gR)"/>
<circle cx="433.90" cy="272.90" r="2.3" fill="url(#gR)"/>
<circle cx="446.74" cy="284.90" r="2.3" fill="url(#gR)"/>
<polyline points="276.10,329.00 288.94,305.70 305.92,280.60 318.76,264.60 331.60,251.20 348.58,240.50 361.42,235.20 374.26,231.90 391.24,236.30 404.08,247.60 416.92,260.50 433.90,277.60 446.74,288.70" fill="none" stroke="#2a70f8" stroke-width="0.7"/>
<circle cx="276.10" cy="329.00" r="2.3" fill="url(#gB)"/>
<circle cx="288.94" cy="305.70" r="2.3" fill="url(#gB)"/>
<circle cx="305.92" cy="280.60" r="2.3" fill="url(#gB)"/>
<circle cx="318.76" cy="264.60" r="2.3" fill="url(#gB)"/>
<circle cx="331.60" cy="251.20" r="2.3" fill="url(#gB)"/>
<circle cx="348.58" cy="240.50" r="2.3" fill="url(#gB)"/>
<circle cx="361.42" cy="235.20" r="2.3" fill="url(#gB)"/>
<circle cx="374.26" cy="231.90" r="2.3" fill="url(#gB)"/>
<circle cx="391.24" cy="236.30" r="2.3" fill="url(#gB)"/>
<circle cx="404.08" cy="247.60" r="2.3" fill="url(#gB)"/>
<circle cx="416.92" cy="260.50" r="2.3" fill="url(#gB)"/>
<circle cx="433.90" cy="277.60" r="2.3" fill="url(#gB)"/>
<circle cx="446.74" cy="288.70" r="2.3" fill="url(#gB)"/>
</g>
<line x1="448.45" y1="203.45" x2="448.45" y2="343.80" stroke="#959595" stroke-width="1.3" />
<line x1="276.10" y1="203.05" x2="276.10" y2="344.20" stroke="#959595" stroke-width="1.3" />
<line x1="333.90" y1="314.20" x2="351.80" y2="314.20" stroke="#c8c8c8" stroke-width="1.0" />
<circle cx="342.85" cy="314.20" r="2.1" fill="url(#gK)"/>
<text x="357.70" y="316.10" font-size="7.0" font-weight="normal" text-anchor="start" fill="#1a1a1a" >Via space 20 μm</text>
<line x1="333.90" y1="323.90" x2="351.80" y2="323.90" stroke="#ff5050" stroke-width="1.0" />
<circle cx="342.85" cy="323.90" r="2.1" fill="url(#gR)"/>
<text x="357.70" y="325.80" font-size="7.0" font-weight="normal" text-anchor="start" fill="#1a1a1a" >Via space 40 μm</text>
<line x1="333.90" y1="333.60" x2="351.80" y2="333.60" stroke="#3070f0" stroke-width="1.0" />
<circle cx="342.85" cy="333.60" r="2.1" fill="url(#gB)"/>
<text x="357.70" y="335.50" font-size="7.0" font-weight="normal" text-anchor="start" fill="#1a1a1a" >Via space 60 μm</text>
<line x1="507.40" y1="203.35" x2="679.00" y2="203.35" stroke="#858585" stroke-width="1.0" />
<line x1="679.00" y1="203.35" x2="679.00" y2="343.50" stroke="#959595" stroke-width="1.3" />
<line x1="507.40" y1="202.95" x2="507.40" y2="343.90" stroke="#959595" stroke-width="1.3" />
<line x1="507.10" y1="343.50" x2="679.00" y2="343.50" stroke="#707070" stroke-width="1.0" />
<line x1="504.80" y1="215.03" x2="507.40" y2="215.03" stroke="#555555" stroke-width="0.8" />
<line x1="504.80" y1="238.39" x2="507.40" y2="238.39" stroke="#555555" stroke-width="0.8" />
<line x1="504.80" y1="261.75" x2="507.40" y2="261.75" stroke="#555555" stroke-width="0.8" />
<line x1="504.80" y1="285.10" x2="507.40" y2="285.10" stroke="#555555" stroke-width="0.8" />
<line x1="504.80" y1="308.46" x2="507.40" y2="308.46" stroke="#555555" stroke-width="0.8" />
<line x1="504.80" y1="331.82" x2="507.40" y2="331.82" stroke="#555555" stroke-width="0.8" />
<line x1="506.00" y1="203.35" x2="507.40" y2="203.35" stroke="#555555" stroke-width="0.7" />
<line x1="506.00" y1="226.71" x2="507.40" y2="226.71" stroke="#555555" stroke-width="0.7" />
<line x1="506.00" y1="250.07" x2="507.40" y2="250.07" stroke="#555555" stroke-width="0.7" />
<line x1="506.00" y1="273.43" x2="507.40" y2="273.43" stroke="#555555" stroke-width="0.7" />
<line x1="506.00" y1="296.78" x2="507.40" y2="296.78" stroke="#555555" stroke-width="0.7" />
<line x1="506.00" y1="320.14" x2="507.40" y2="320.14" stroke="#555555" stroke-width="0.7" />
<line x1="506.00" y1="343.50" x2="507.40" y2="343.50" stroke="#555555" stroke-width="0.7" />
<text x="500.60" y="218.33" font-size="9.2" font-weight="bold" text-anchor="end" fill="#111" stroke="#111" stroke-width="0.15" >0</text>
<text x="500.60" y="241.69" font-size="9.2" font-weight="bold" text-anchor="end" fill="#111" stroke="#111" stroke-width="0.15" >−10</text>
<text x="500.60" y="265.05" font-size="9.2" font-weight="bold" text-anchor="end" fill="#111" stroke="#111" stroke-width="0.15" >−20</text>
<text x="500.60" y="288.40" font-size="9.2" font-weight="bold" text-anchor="end" fill="#111" stroke="#111" stroke-width="0.15" >−30</text>
<text x="500.60" y="311.76" font-size="9.2" font-weight="bold" text-anchor="end" fill="#111" stroke="#111" stroke-width="0.15" >−40</text>
<text x="500.60" y="335.12" font-size="9.2" font-weight="bold" text-anchor="end" fill="#111" stroke="#111" stroke-width="0.15" >−50</text>
<line x1="507.70" y1="343.50" x2="507.70" y2="345.90" stroke="#444444" stroke-width="0.8" />
<line x1="520.48" y1="343.50" x2="520.48" y2="345.00" stroke="#4a4a4a" stroke-width="0.7" />
<line x1="527.95" y1="343.50" x2="527.95" y2="345.00" stroke="#4a4a4a" stroke-width="0.7" />
<line x1="533.26" y1="343.50" x2="533.26" y2="345.00" stroke="#4a4a4a" stroke-width="0.7" />
<line x1="537.37" y1="343.50" x2="537.37" y2="345.00" stroke="#4a4a4a" stroke-width="0.7" />
<line x1="540.73" y1="343.50" x2="540.73" y2="345.00" stroke="#4a4a4a" stroke-width="0.7" />
<line x1="543.57" y1="343.50" x2="543.57" y2="345.00" stroke="#4a4a4a" stroke-width="0.7" />
<line x1="546.04" y1="343.50" x2="546.04" y2="345.00" stroke="#4a4a4a" stroke-width="0.7" />
<line x1="548.21" y1="343.50" x2="548.21" y2="345.00" stroke="#4a4a4a" stroke-width="0.7" />
<line x1="550.15" y1="343.50" x2="550.15" y2="345.90" stroke="#444444" stroke-width="0.8" />
<line x1="562.93" y1="343.50" x2="562.93" y2="345.00" stroke="#4a4a4a" stroke-width="0.7" />
<line x1="570.40" y1="343.50" x2="570.40" y2="345.00" stroke="#4a4a4a" stroke-width="0.7" />
<line x1="575.71" y1="343.50" x2="575.71" y2="345.00" stroke="#4a4a4a" stroke-width="0.7" />
<line x1="579.82" y1="343.50" x2="579.82" y2="345.00" stroke="#4a4a4a" stroke-width="0.7" />
<line x1="583.18" y1="343.50" x2="583.18" y2="345.00" stroke="#4a4a4a" stroke-width="0.7" />
<line x1="586.02" y1="343.50" x2="586.02" y2="345.00" stroke="#4a4a4a" stroke-width="0.7" />
<line x1="588.49" y1="343.50" x2="588.49" y2="345.00" stroke="#4a4a4a" stroke-width="0.7" />
<line x1="590.66" y1="343.50" x2="590.66" y2="345.00" stroke="#4a4a4a" stroke-width="0.7" />
<line x1="592.60" y1="343.50" x2="592.60" y2="345.90" stroke="#444444" stroke-width="0.8" />
<line x1="605.38" y1="343.50" x2="605.38" y2="345.00" stroke="#4a4a4a" stroke-width="0.7" />
<line x1="612.85" y1="343.50" x2="612.85" y2="345.00" stroke="#4a4a4a" stroke-width="0.7" />
<line x1="618.16" y1="343.50" x2="618.16" y2="345.00" stroke="#4a4a4a" stroke-width="0.7" />
<line x1="622.27" y1="343.50" x2="622.27" y2="345.00" stroke="#4a4a4a" stroke-width="0.7" />
<line x1="625.63" y1="343.50" x2="625.63" y2="345.00" stroke="#4a4a4a" stroke-width="0.7" />
<line x1="628.47" y1="343.50" x2="628.47" y2="345.00" stroke="#4a4a4a" stroke-width="0.7" />
<line x1="630.94" y1="343.50" x2="630.94" y2="345.00" stroke="#4a4a4a" stroke-width="0.7" />
<line x1="633.11" y1="343.50" x2="633.11" y2="345.00" stroke="#4a4a4a" stroke-width="0.7" />
<line x1="635.05" y1="343.50" x2="635.05" y2="345.90" stroke="#444444" stroke-width="0.8" />
<line x1="647.83" y1="343.50" x2="647.83" y2="345.00" stroke="#4a4a4a" stroke-width="0.7" />
<line x1="655.30" y1="343.50" x2="655.30" y2="345.00" stroke="#4a4a4a" stroke-width="0.7" />
<line x1="660.61" y1="343.50" x2="660.61" y2="345.00" stroke="#4a4a4a" stroke-width="0.7" />
<line x1="664.72" y1="343.50" x2="664.72" y2="345.00" stroke="#4a4a4a" stroke-width="0.7" />
<line x1="668.08" y1="343.50" x2="668.08" y2="345.00" stroke="#4a4a4a" stroke-width="0.7" />
<line x1="670.92" y1="343.50" x2="670.92" y2="345.00" stroke="#4a4a4a" stroke-width="0.7" />
<line x1="673.39" y1="343.50" x2="673.39" y2="345.00" stroke="#4a4a4a" stroke-width="0.7" />
<line x1="675.56" y1="343.50" x2="675.56" y2="345.00" stroke="#4a4a4a" stroke-width="0.7" />
<line x1="677.50" y1="343.50" x2="677.50" y2="345.90" stroke="#444444" stroke-width="0.8" />
<text x="499.78" y="360.30" font-size="9.5" font-weight="bold" text-anchor="start" fill="#111" stroke="#111" stroke-width="0.15" >10</text>
<text x="510.18" y="356.00" font-size="6.2" font-weight="bold" text-anchor="start" fill="#111" stroke="#111" stroke-width="0.15" >−1</text>
<text x="543.35" y="360.30" font-size="9.5" font-weight="bold" text-anchor="start" fill="#111" stroke="#111" stroke-width="0.15" >10</text>
<text x="553.75" y="356.00" font-size="6.2" font-weight="bold" text-anchor="start" fill="#111" stroke="#111" stroke-width="0.15" >0</text>
<text x="585.80" y="360.30" font-size="9.5" font-weight="bold" text-anchor="start" fill="#111" stroke="#111" stroke-width="0.15" >10</text>
<text x="596.20" y="356.00" font-size="6.2" font-weight="bold" text-anchor="start" fill="#111" stroke="#111" stroke-width="0.15" >1</text>
<text x="628.25" y="360.30" font-size="9.5" font-weight="bold" text-anchor="start" fill="#111" stroke="#111" stroke-width="0.15" >10</text>
<text x="638.64" y="356.00" font-size="6.2" font-weight="bold" text-anchor="start" fill="#111" stroke="#111" stroke-width="0.15" >2</text>
<text x="670.70" y="360.30" font-size="9.5" font-weight="bold" text-anchor="start" fill="#111" stroke="#111" stroke-width="0.15" >10</text>
<text x="681.10" y="356.00" font-size="6.2" font-weight="bold" text-anchor="start" fill="#111" stroke="#111" stroke-width="0.15" >3</text>
<text x="466.20" y="207.90" font-size="16.6" font-weight="bold" text-anchor="start" fill="#000" stroke="#000" stroke-width="0.15" >e</text>
<text transform="translate(475.20,273.43) rotate(-90)" x="0" y="0" font-size="9.3" font-weight="bold" text-anchor="middle" fill="#111">Normalized amplitude (dB)</text>
<text x="592.10" y="375.00" font-size="9.5" font-weight="bold" text-anchor="middle" fill="#111" stroke="#111" stroke-width="0.15" >Frquency (Hz)</text>
<g clip-path="url(#cle)">
<polyline points="507.70,322.50 520.48,300.20 537.37,270.10 550.15,253.00 562.93,242.80 579.82,235.20 592.60,232.00 605.38,228.90 622.27,231.40 635.05,238.20 647.83,247.80 664.72,264.10 677.50,276.70" fill="none" stroke="#3a3a3a" stroke-width="0.7"/>
<circle cx="507.70" cy="322.50" r="2.3" fill="url(#gK)"/>
<circle cx="520.48" cy="300.20" r="2.3" fill="url(#gK)"/>
<circle cx="537.37" cy="270.10" r="2.3" fill="url(#gK)"/>
<circle cx="550.15" cy="253.00" r="2.3" fill="url(#gK)"/>
<circle cx="562.93" cy="242.80" r="2.3" fill="url(#gK)"/>
<circle cx="579.82" cy="235.20" r="2.3" fill="url(#gK)"/>
<circle cx="592.60" cy="232.00" r="2.3" fill="url(#gK)"/>
<circle cx="605.38" cy="228.90" r="2.3" fill="url(#gK)"/>
<circle cx="622.27" cy="231.40" r="2.3" fill="url(#gK)"/>
<circle cx="635.05" cy="238.20" r="2.3" fill="url(#gK)"/>
<circle cx="647.83" cy="247.80" r="2.3" fill="url(#gK)"/>
<circle cx="664.72" cy="264.10" r="2.3" fill="url(#gK)"/>
<circle cx="677.50" cy="276.70" r="2.3" fill="url(#gK)"/>
<polyline points="507.70,322.80 520.48,299.50 537.37,273.30 550.15,257.50 562.93,242.80 579.82,230.70 592.60,224.70 605.38,220.90 622.27,225.70 635.05,238.20 647.83,251.50 664.72,269.60 677.50,281.00" fill="none" stroke="#ff4040" stroke-width="0.7"/>
<circle cx="507.70" cy="322.80" r="2.3" fill="url(#gR)"/>
<circle cx="520.48" cy="299.50" r="2.3" fill="url(#gR)"/>
<circle cx="537.37" cy="273.30" r="2.3" fill="url(#gR)"/>
<circle cx="550.15" cy="257.50" r="2.3" fill="url(#gR)"/>
<circle cx="562.93" cy="242.80" r="2.3" fill="url(#gR)"/>
<circle cx="579.82" cy="230.70" r="2.3" fill="url(#gR)"/>
<circle cx="592.60" cy="224.70" r="2.3" fill="url(#gR)"/>
<circle cx="605.38" cy="220.90" r="2.3" fill="url(#gR)"/>
<circle cx="622.27" cy="225.70" r="2.3" fill="url(#gR)"/>
<circle cx="635.05" cy="238.20" r="2.3" fill="url(#gR)"/>
<circle cx="647.83" cy="251.50" r="2.3" fill="url(#gR)"/>
<circle cx="664.72" cy="269.60" r="2.3" fill="url(#gR)"/>
<circle cx="677.50" cy="281.00" r="2.3" fill="url(#gR)"/>
<polyline points="507.70,325.30 520.48,304.50 537.37,281.90 550.15,265.60 562.93,249.80 579.82,234.00 592.60,223.10 605.38,214.60 622.27,230.90 635.05,245.30 647.83,259.60 664.72,275.90 677.50,286.00" fill="none" stroke="#2a70f8" stroke-width="0.7"/>
<circle cx="507.70" cy="325.30" r="2.3" fill="url(#gB)"/>
<circle cx="520.48" cy="304.50" r="2.3" fill="url(#gB)"/>
<circle cx="537.37" cy="281.90" r="2.3" fill="url(#gB)"/>
<circle cx="550.15" cy="265.60" r="2.3" fill="url(#gB)"/>
<circle cx="562.93" cy="249.80" r="2.3" fill="url(#gB)"/>
<circle cx="579.82" cy="234.00" r="2.3" fill="url(#gB)"/>
<circle cx="592.60" cy="223.10" r="2.3" fill="url(#gB)"/>
<circle cx="605.38" cy="214.60" r="2.3" fill="url(#gB)"/>
<circle cx="622.27" cy="230.90" r="2.3" fill="url(#gB)"/>
<circle cx="635.05" cy="245.30" r="2.3" fill="url(#gB)"/>
<circle cx="647.83" cy="259.60" r="2.3" fill="url(#gB)"/>
<circle cx="664.72" cy="275.90" r="2.3" fill="url(#gB)"/>
<circle cx="677.50" cy="286.00" r="2.3" fill="url(#gB)"/>
</g>
<line x1="679.00" y1="203.35" x2="679.00" y2="343.50" stroke="#959595" stroke-width="1.3" />
<line x1="507.40" y1="202.95" x2="507.40" y2="343.90" stroke="#959595" stroke-width="1.3" />
<line x1="574.40" y1="316.30" x2="591.90" y2="316.30" stroke="#404040" stroke-width="1.0" />
<circle cx="583.15" cy="316.30" r="2.1" fill="url(#gK)"/>
<text x="597.30" y="318.20" font-size="7.0" font-weight="normal" text-anchor="start" fill="#1a1a1a" >Via diameter 40 μm</text>
<line x1="574.40" y1="325.95" x2="591.90" y2="325.95" stroke="#ff8080" stroke-width="1.0" />
<circle cx="583.15" cy="325.95" r="2.1" fill="url(#gR)"/>
<text x="597.30" y="327.85" font-size="7.0" font-weight="normal" text-anchor="start" fill="#1a1a1a" >Via diameter 60 μm</text>
<line x1="574.40" y1="335.60" x2="591.90" y2="335.60" stroke="#3070f0" stroke-width="1.0" />
<circle cx="583.15" cy="335.60" r="2.1" fill="url(#gB)"/>
<text x="597.30" y="337.50" font-size="7.0" font-weight="normal" text-anchor="start" fill="#1a1a1a" >Via diameter 80 μm</text></svg>
</body></html>
